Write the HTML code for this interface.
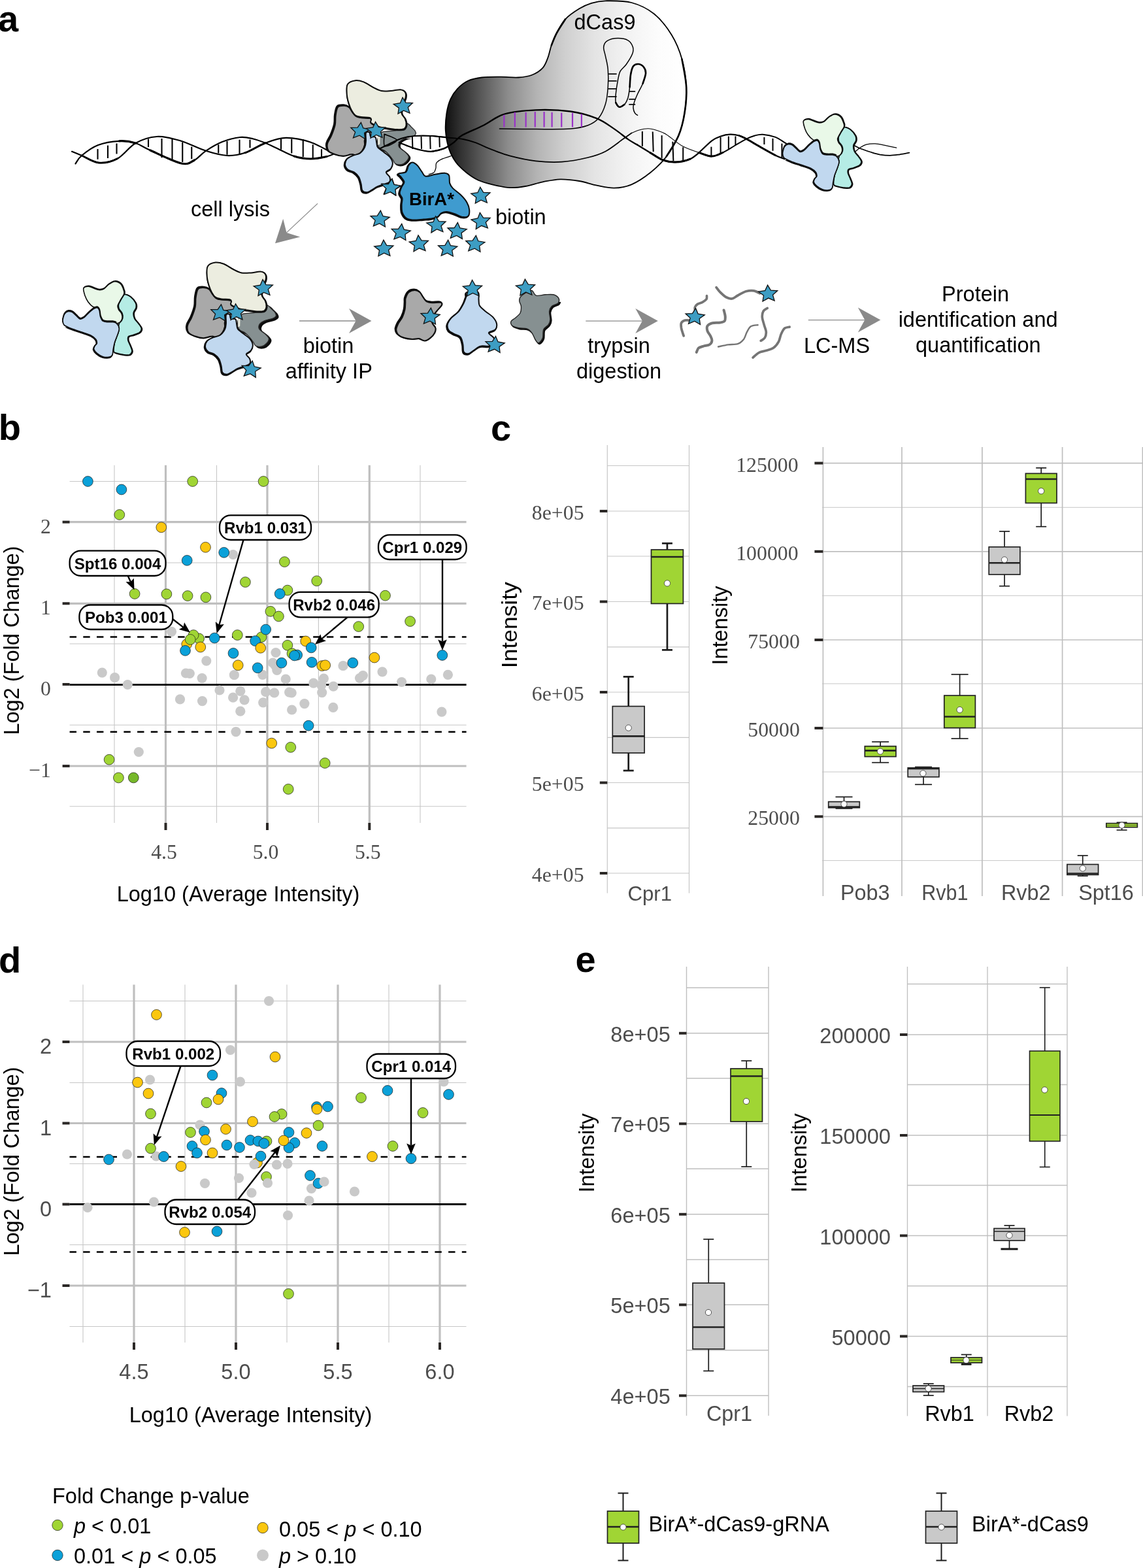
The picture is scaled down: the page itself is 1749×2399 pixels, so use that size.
<!DOCTYPE html>
<html lang="en"><head><meta charset="utf-8"><title>Figure</title>
<style>
html,body{margin:0;padding:0;background:#fff;}
body{width:1749px;height:2399px;overflow:hidden;}
svg{display:block;}
text{white-space:pre;}
</style></head>
<body>
<svg width="1749" height="2399" viewBox="0 0 1749 2399">
<rect width="1749" height="2399" fill="#ffffff"/>
<text x="-3" y="47.7" font-family="'Liberation Sans', sans-serif" font-size="56" fill="#000" text-anchor="start" font-weight="bold" font-style="normal" >a</text>
<text x="-2.3" y="673.3" font-family="'Liberation Sans', sans-serif" font-size="56" fill="#000" text-anchor="start" font-weight="bold" font-style="normal" >b</text>
<text x="751" y="673.8" font-family="'Liberation Sans', sans-serif" font-size="56" fill="#000" text-anchor="start" font-weight="bold" font-style="normal" >c</text>
<text x="-2" y="1488" font-family="'Liberation Sans', sans-serif" font-size="56" fill="#000" text-anchor="start" font-weight="bold" font-style="normal" >d</text>
<text x="880.5" y="1487.2" font-family="'Liberation Sans', sans-serif" font-size="56" fill="#000" text-anchor="start" font-weight="bold" font-style="normal" >e</text>
<line x1="175" y1="711.8" x2="175" y2="1259" stroke="#c6c6c6" stroke-width="1.1" />
<line x1="331.5" y1="711.8" x2="331.5" y2="1259" stroke="#c6c6c6" stroke-width="1.1" />
<line x1="487.4" y1="711.8" x2="487.4" y2="1259" stroke="#c6c6c6" stroke-width="1.1" />
<line x1="643" y1="711.8" x2="643" y2="1259" stroke="#c6c6c6" stroke-width="1.1" />
<line x1="106.6" y1="736.5" x2="713.6" y2="736.5" stroke="#c6c6c6" stroke-width="1.1" />
<line x1="106.6" y1="861" x2="713.6" y2="861" stroke="#c6c6c6" stroke-width="1.1" />
<line x1="106.6" y1="985" x2="713.6" y2="985" stroke="#c6c6c6" stroke-width="1.1" />
<line x1="106.6" y1="1109.3" x2="713.6" y2="1109.3" stroke="#c6c6c6" stroke-width="1.1" />
<line x1="106.6" y1="1233.8" x2="713.6" y2="1233.8" stroke="#c6c6c6" stroke-width="1.1" />
<line x1="253.5" y1="711.8" x2="253.5" y2="1259" stroke="#bfbfbf" stroke-width="3.2" />
<line x1="409" y1="711.8" x2="409" y2="1259" stroke="#bfbfbf" stroke-width="3.2" />
<line x1="565.3" y1="711.8" x2="565.3" y2="1259" stroke="#bfbfbf" stroke-width="3.2" />
<line x1="106.6" y1="798.7" x2="713.6" y2="798.7" stroke="#bfbfbf" stroke-width="3.2" />
<line x1="106.6" y1="923.3" x2="713.6" y2="923.3" stroke="#bfbfbf" stroke-width="3.2" />
<line x1="106.6" y1="1172" x2="713.6" y2="1172" stroke="#bfbfbf" stroke-width="3.2" />
<line x1="253.5" y1="1259" x2="253.5" y2="1270" stroke="#2b2826" stroke-width="4" />
<line x1="409" y1="1259" x2="409" y2="1270" stroke="#2b2826" stroke-width="4" />
<line x1="565.3" y1="1259" x2="565.3" y2="1270" stroke="#2b2826" stroke-width="4" />
<line x1="95.6" y1="798.7" x2="106.6" y2="798.7" stroke="#2b2826" stroke-width="4" />
<line x1="95.6" y1="923.3" x2="106.6" y2="923.3" stroke="#2b2826" stroke-width="4" />
<line x1="95.6" y1="1172" x2="106.6" y2="1172" stroke="#2b2826" stroke-width="4" />
<line x1="95.6" y1="1047" x2="106.6" y2="1047" stroke="#2b2826" stroke-width="4" />
<text x="251" y="1314" font-family="'Liberation Serif', serif" font-size="31.8" fill="#4d4d4d" text-anchor="middle" font-weight="normal" font-style="normal" >4.5</text>
<text x="406.5" y="1314" font-family="'Liberation Serif', serif" font-size="31.8" fill="#4d4d4d" text-anchor="middle" font-weight="normal" font-style="normal" >5.0</text>
<text x="562.8" y="1314" font-family="'Liberation Serif', serif" font-size="31.8" fill="#4d4d4d" text-anchor="middle" font-weight="normal" font-style="normal" >5.5</text>
<text x="78" y="815.5" font-family="'Liberation Serif', serif" font-size="31.8" fill="#4d4d4d" text-anchor="end" font-weight="normal" font-style="normal" >2</text>
<text x="78" y="940" font-family="'Liberation Serif', serif" font-size="31.8" fill="#4d4d4d" text-anchor="end" font-weight="normal" font-style="normal" >1</text>
<text x="78" y="1064" font-family="'Liberation Serif', serif" font-size="31.8" fill="#4d4d4d" text-anchor="end" font-weight="normal" font-style="normal" >0</text>
<text x="78" y="1189" font-family="'Liberation Serif', serif" font-size="31.8" fill="#4d4d4d" text-anchor="end" font-weight="normal" font-style="normal" >−1</text>
<text x="364.5" y="1379" font-family="'Liberation Sans', sans-serif" font-size="32.5" fill="#000" text-anchor="middle" font-weight="normal" font-style="normal" >Log10 (Average Intensity)</text>
<text transform="translate(29,980) rotate(-90)" font-family="'Liberation Sans', sans-serif" font-size="32.5" text-anchor="middle" fill="#000">Log2 (Fold Change)</text>
<line x1="106.6" y1="1047.6" x2="713.6" y2="1047.6" stroke="#000" stroke-width="2.8" />
<line x1="106.6" y1="974.5" x2="713.6" y2="974.5" stroke="#000" stroke-width="2.6" stroke-dasharray="10.4 10.3"/>
<line x1="106.6" y1="1119.8" x2="713.6" y2="1119.8" stroke="#000" stroke-width="2.6" stroke-dasharray="10.4 10.3"/>
<circle cx="421.1" cy="1017.9" r="7.6" fill="#c9c9c9"/>
<circle cx="156.3" cy="1029.1" r="7.6" fill="#c9c9c9"/>
<circle cx="175.6" cy="1036.7" r="7.6" fill="#c9c9c9"/>
<circle cx="195.3" cy="1047.5" r="7.6" fill="#c9c9c9"/>
<circle cx="284.4" cy="1030.0" r="7.6" fill="#c9c9c9"/>
<circle cx="290.3" cy="1030.5" r="7.6" fill="#c9c9c9"/>
<circle cx="309.1" cy="1037.6" r="7.6" fill="#c9c9c9"/>
<circle cx="358.4" cy="1032.7" r="7.6" fill="#c9c9c9"/>
<circle cx="401.8" cy="1032.3" r="7.6" fill="#c9c9c9"/>
<circle cx="423.8" cy="1025.5" r="7.6" fill="#c9c9c9"/>
<circle cx="437.2" cy="1039.0" r="7.6" fill="#c9c9c9"/>
<circle cx="479.7" cy="1045.2" r="7.6" fill="#c9c9c9"/>
<circle cx="491.8" cy="1048.4" r="7.6" fill="#c9c9c9"/>
<circle cx="495.4" cy="1038.1" r="7.6" fill="#c9c9c9"/>
<circle cx="492.7" cy="1059.6" r="7.6" fill="#c9c9c9"/>
<circle cx="510.2" cy="1050.2" r="7.6" fill="#c9c9c9"/>
<circle cx="550.5" cy="1037.6" r="7.6" fill="#c9c9c9"/>
<circle cx="555.4" cy="1033.6" r="7.6" fill="#c9c9c9"/>
<circle cx="585.0" cy="1027.8" r="7.6" fill="#c9c9c9"/>
<circle cx="614.6" cy="1043.5" r="7.6" fill="#c9c9c9"/>
<circle cx="659.8" cy="1039.0" r="7.6" fill="#c9c9c9"/>
<circle cx="685.4" cy="1032.3" r="7.6" fill="#c9c9c9"/>
<circle cx="336.0" cy="1056.0" r="7.6" fill="#c9c9c9"/>
<circle cx="367.8" cy="1057.3" r="7.6" fill="#c9c9c9"/>
<circle cx="406.7" cy="1058.7" r="7.6" fill="#c9c9c9"/>
<circle cx="419.7" cy="1060.0" r="7.6" fill="#c9c9c9"/>
<circle cx="442.6" cy="1059.1" r="7.6" fill="#c9c9c9"/>
<circle cx="446.2" cy="1060.0" r="7.6" fill="#c9c9c9"/>
<circle cx="275.5" cy="1069.9" r="7.6" fill="#c9c9c9"/>
<circle cx="309.5" cy="1072.6" r="7.6" fill="#c9c9c9"/>
<circle cx="356.6" cy="1067.2" r="7.6" fill="#c9c9c9"/>
<circle cx="374.0" cy="1070.8" r="7.6" fill="#c9c9c9"/>
<circle cx="402.7" cy="1074.8" r="7.6" fill="#c9c9c9"/>
<circle cx="465.9" cy="1076.6" r="7.6" fill="#c9c9c9"/>
<circle cx="367.8" cy="1088.2" r="7.6" fill="#c9c9c9"/>
<circle cx="446.6" cy="1086.0" r="7.6" fill="#c9c9c9"/>
<circle cx="509.8" cy="1082.4" r="7.6" fill="#c9c9c9"/>
<circle cx="675.9" cy="1089.1" r="7.6" fill="#c9c9c9"/>
<circle cx="361.0" cy="1119.6" r="7.6" fill="#c9c9c9"/>
<circle cx="212.3" cy="1150.5" r="7.6" fill="#c9c9c9"/>
<circle cx="356.6" cy="848.5" r="7.6" fill="#c9c9c9"/>
<circle cx="262.5" cy="966.3" r="7.6" fill="#c9c9c9"/>
<circle cx="422.0" cy="998.5" r="7.6" fill="#c9c9c9"/>
<circle cx="417.5" cy="1014.2" r="7.6" fill="#c9c9c9"/>
<circle cx="315.8" cy="1011.1" r="7.6" fill="#c9c9c9"/>
<circle cx="525.0" cy="1018.7" r="7.6" fill="#c9c9c9"/>
<circle cx="134.4" cy="736.5" r="7.8999999999999995" fill="#0ba1d9" stroke="#1a1a1a" stroke-width="0.7"/>
<circle cx="185.9" cy="749.0" r="7.8999999999999995" fill="#0ba1d9" stroke="#1a1a1a" stroke-width="0.7"/>
<circle cx="294.7" cy="736.5" r="7.8999999999999995" fill="#a0d534" stroke="#1a1a1a" stroke-width="0.7"/>
<circle cx="403.1" cy="736.5" r="7.8999999999999995" fill="#a0d534" stroke="#1a1a1a" stroke-width="0.7"/>
<circle cx="182.8" cy="787.5" r="7.8999999999999995" fill="#a0d534" stroke="#1a1a1a" stroke-width="0.7"/>
<circle cx="246.8" cy="806.8" r="7.8999999999999995" fill="#fbc70f" stroke="#1a1a1a" stroke-width="0.7"/>
<circle cx="314.5" cy="837.3" r="7.8999999999999995" fill="#fbc70f" stroke="#1a1a1a" stroke-width="0.7"/>
<circle cx="342.7" cy="845.3" r="7.8999999999999995" fill="#0ba1d9" stroke="#1a1a1a" stroke-width="0.7"/>
<circle cx="286.2" cy="857.4" r="7.8999999999999995" fill="#0ba1d9" stroke="#1a1a1a" stroke-width="0.7"/>
<circle cx="435.4" cy="859.6" r="7.8999999999999995" fill="#a0d534" stroke="#1a1a1a" stroke-width="0.7"/>
<circle cx="375.4" cy="890.6" r="7.8999999999999995" fill="#a0d534" stroke="#1a1a1a" stroke-width="0.7"/>
<circle cx="484.7" cy="888.8" r="7.8999999999999995" fill="#a0d534" stroke="#1a1a1a" stroke-width="0.7"/>
<circle cx="206.1" cy="908.5" r="7.8999999999999995" fill="#a0d534" stroke="#1a1a1a" stroke-width="0.7"/>
<circle cx="254.9" cy="908.9" r="7.8999999999999995" fill="#a0d534" stroke="#1a1a1a" stroke-width="0.7"/>
<circle cx="287.1" cy="911.6" r="7.8999999999999995" fill="#a0d534" stroke="#1a1a1a" stroke-width="0.7"/>
<circle cx="314.9" cy="913.8" r="7.8999999999999995" fill="#a0d534" stroke="#1a1a1a" stroke-width="0.7"/>
<circle cx="439.9" cy="903.1" r="7.8999999999999995" fill="#a0d534" stroke="#1a1a1a" stroke-width="0.7"/>
<circle cx="428.2" cy="908.5" r="7.8999999999999995" fill="#0ba1d9" stroke="#1a1a1a" stroke-width="0.7"/>
<circle cx="589.5" cy="911.2" r="7.8999999999999995" fill="#a0d534" stroke="#1a1a1a" stroke-width="0.7"/>
<circle cx="413.9" cy="935.4" r="7.8999999999999995" fill="#a0d534" stroke="#1a1a1a" stroke-width="0.7"/>
<circle cx="426.4" cy="943.0" r="7.8999999999999995" fill="#a0d534" stroke="#1a1a1a" stroke-width="0.7"/>
<circle cx="627.6" cy="950.6" r="7.8999999999999995" fill="#a0d534" stroke="#1a1a1a" stroke-width="0.7"/>
<circle cx="548.7" cy="958.6" r="7.8999999999999995" fill="#a0d534" stroke="#1a1a1a" stroke-width="0.7"/>
<circle cx="285.8" cy="985.5" r="7.8999999999999995" fill="#fbc70f" stroke="#1a1a1a" stroke-width="0.7"/>
<circle cx="304.6" cy="977.0" r="7.8999999999999995" fill="#a0d534" stroke="#1a1a1a" stroke-width="0.7"/>
<circle cx="296.1" cy="971.6" r="7.8999999999999995" fill="#a0d534" stroke="#1a1a1a" stroke-width="0.7"/>
<circle cx="291.2" cy="978.4" r="7.8999999999999995" fill="#a0d534" stroke="#1a1a1a" stroke-width="0.7"/>
<circle cx="328.3" cy="976.1" r="7.8999999999999995" fill="#0ba1d9" stroke="#1a1a1a" stroke-width="0.7"/>
<circle cx="363.3" cy="971.6" r="7.8999999999999995" fill="#a0d534" stroke="#1a1a1a" stroke-width="0.7"/>
<circle cx="400.0" cy="974.8" r="7.8999999999999995" fill="#a0d534" stroke="#1a1a1a" stroke-width="0.7"/>
<circle cx="406.7" cy="963.1" r="7.8999999999999995" fill="#0ba1d9" stroke="#1a1a1a" stroke-width="0.7"/>
<circle cx="390.6" cy="980.6" r="7.8999999999999995" fill="#0ba1d9" stroke="#1a1a1a" stroke-width="0.7"/>
<circle cx="306.8" cy="990.0" r="7.8999999999999995" fill="#fbc70f" stroke="#1a1a1a" stroke-width="0.7"/>
<circle cx="283.5" cy="995.4" r="7.8999999999999995" fill="#0ba1d9" stroke="#1a1a1a" stroke-width="0.7"/>
<circle cx="467.7" cy="981.0" r="7.8999999999999995" fill="#fbc70f" stroke="#1a1a1a" stroke-width="0.7"/>
<circle cx="476.2" cy="990.9" r="7.8999999999999995" fill="#0ba1d9" stroke="#1a1a1a" stroke-width="0.7"/>
<circle cx="439.9" cy="987.3" r="7.8999999999999995" fill="#a0d534" stroke="#1a1a1a" stroke-width="0.7"/>
<circle cx="398.7" cy="991.3" r="7.8999999999999995" fill="#fbc70f" stroke="#1a1a1a" stroke-width="0.7"/>
<circle cx="357.0" cy="999.4" r="7.8999999999999995" fill="#0ba1d9" stroke="#1a1a1a" stroke-width="0.7"/>
<circle cx="447.0" cy="999.9" r="7.8999999999999995" fill="#a0d534" stroke="#1a1a1a" stroke-width="0.7"/>
<circle cx="454.7" cy="1002.1" r="7.8999999999999995" fill="#0ba1d9" stroke="#1a1a1a" stroke-width="0.7"/>
<circle cx="450.6" cy="1003.0" r="7.8999999999999995" fill="#0ba1d9" stroke="#1a1a1a" stroke-width="0.7"/>
<circle cx="676.8" cy="1002.5" r="7.8999999999999995" fill="#0ba1d9" stroke="#1a1a1a" stroke-width="0.7"/>
<circle cx="572.9" cy="1006.1" r="7.8999999999999995" fill="#fbc70f" stroke="#1a1a1a" stroke-width="0.7"/>
<circle cx="364.2" cy="1017.8" r="7.8999999999999995" fill="#fbc70f" stroke="#1a1a1a" stroke-width="0.7"/>
<circle cx="394.2" cy="1021.8" r="7.8999999999999995" fill="#0ba1d9" stroke="#1a1a1a" stroke-width="0.7"/>
<circle cx="430.9" cy="1014.2" r="7.8999999999999995" fill="#0ba1d9" stroke="#1a1a1a" stroke-width="0.7"/>
<circle cx="477.1" cy="1013.3" r="7.8999999999999995" fill="#0ba1d9" stroke="#1a1a1a" stroke-width="0.7"/>
<circle cx="492.7" cy="1018.7" r="7.8999999999999995" fill="#fbc70f" stroke="#1a1a1a" stroke-width="0.7"/>
<circle cx="497.7" cy="1017.8" r="7.8999999999999995" fill="#fbc70f" stroke="#1a1a1a" stroke-width="0.7"/>
<circle cx="539.8" cy="1014.2" r="7.8999999999999995" fill="#0ba1d9" stroke="#1a1a1a" stroke-width="0.7"/>
<circle cx="472.1" cy="1110.2" r="7.8999999999999995" fill="#0ba1d9" stroke="#1a1a1a" stroke-width="0.7"/>
<circle cx="415.7" cy="1137.1" r="7.8999999999999995" fill="#fbc70f" stroke="#1a1a1a" stroke-width="0.7"/>
<circle cx="444.8" cy="1143.3" r="7.8999999999999995" fill="#a0d534" stroke="#1a1a1a" stroke-width="0.7"/>
<circle cx="167.1" cy="1162.2" r="7.8999999999999995" fill="#a0d534" stroke="#1a1a1a" stroke-width="0.7"/>
<circle cx="497.2" cy="1167.5" r="7.8999999999999995" fill="#a0d534" stroke="#1a1a1a" stroke-width="0.7"/>
<circle cx="181.4" cy="1189.9" r="7.8999999999999995" fill="#a0d534" stroke="#1a1a1a" stroke-width="0.7"/>
<circle cx="204.3" cy="1189.9" r="7.8999999999999995" fill="#76b82a" stroke="#1a1a1a" stroke-width="0.7"/>
<circle cx="441.2" cy="1207.4" r="7.8999999999999995" fill="#a0d534" stroke="#1a1a1a" stroke-width="0.7"/>
<line x1="372.5" y1="826.0" x2="335.4" y2="956.0" stroke="#000" stroke-width="2.4" />
<polygon points="331.7,969.0 329.7,951.3 335.4,956.0 342.8,955.0" fill="#000"/>
<rect x="336" y="788.4" width="140" height="37.60000000000002" rx="17" ry="17" fill="#fff" stroke="#000" stroke-width="2.3"/>
<text x="406.0" y="816.2555000000001" font-family="'Liberation Sans', sans-serif" font-size="24.1" fill="#000" text-anchor="middle" font-weight="bold" font-style="normal" >Rvb1 0.031</text>
<line x1="677.0" y1="856.0" x2="677.0" y2="981.5" stroke="#000" stroke-width="2.4" />
<polygon points="677.0,995.0 670.2,978.5 677.0,981.5 683.8,978.5" fill="#000"/>
<rect x="579" y="818.4" width="134.60000000000002" height="37.60000000000002" rx="17" ry="17" fill="#fff" stroke="#000" stroke-width="2.3"/>
<text x="646.3" y="846.2555000000001" font-family="'Liberation Sans', sans-serif" font-size="24.1" fill="#000" text-anchor="middle" font-weight="bold" font-style="normal" >Cpr1 0.029</text>
<line x1="195.7" y1="881.0" x2="199.9" y2="890.2" stroke="#000" stroke-width="2.4" />
<polygon points="205.5,902.5 192.5,890.3 199.9,890.2 204.8,884.7" fill="#000"/>
<rect x="106.6" y="842.6" width="146.9" height="38.39999999999998" rx="17" ry="17" fill="#fff" stroke="#000" stroke-width="2.3"/>
<text x="180.05" y="870.8555" font-family="'Liberation Sans', sans-serif" font-size="24.1" fill="#000" text-anchor="middle" font-weight="bold" font-style="normal" >Spt16 0.004</text>
<line x1="264.0" y1="947.0" x2="280.3" y2="959.6" stroke="#000" stroke-width="2.4" />
<polygon points="291.0,967.8 273.8,963.1 280.3,959.6 282.1,952.3" fill="#000"/>
<rect x="121.4" y="925.5" width="142.9" height="37.5" rx="17" ry="17" fill="#fff" stroke="#000" stroke-width="2.3"/>
<text x="192.85000000000002" y="953.3055" font-family="'Liberation Sans', sans-serif" font-size="24.1" fill="#000" text-anchor="middle" font-weight="bold" font-style="normal" >Pob3 0.001</text>
<line x1="531.7" y1="944.3" x2="492.3" y2="977.3" stroke="#000" stroke-width="2.4" />
<polygon points="482.0,986.0 490.3,970.2 492.3,977.3 499.0,980.6" fill="#000"/>
<rect x="442.6" y="905.8" width="137.0" height="38.5" rx="17" ry="17" fill="#fff" stroke="#000" stroke-width="2.3"/>
<text x="511.1" y="934.1055" font-family="'Liberation Sans', sans-serif" font-size="24.1" fill="#000" text-anchor="middle" font-weight="bold" font-style="normal" >Rvb2 0.046</text>
<line x1="127" y1="1506.5" x2="127" y2="2054" stroke="#c6c6c6" stroke-width="1.1" />
<line x1="283" y1="1506.5" x2="283" y2="2054" stroke="#c6c6c6" stroke-width="1.1" />
<line x1="439" y1="1506.5" x2="439" y2="2054" stroke="#c6c6c6" stroke-width="1.1" />
<line x1="595" y1="1506.5" x2="595" y2="2054" stroke="#c6c6c6" stroke-width="1.1" />
<line x1="106.5" y1="1531.5" x2="713.5" y2="1531.5" stroke="#c6c6c6" stroke-width="1.1" />
<line x1="106.5" y1="1656.5" x2="713.5" y2="1656.5" stroke="#c6c6c6" stroke-width="1.1" />
<line x1="106.5" y1="1780.5" x2="713.5" y2="1780.5" stroke="#c6c6c6" stroke-width="1.1" />
<line x1="106.5" y1="1904.5" x2="713.5" y2="1904.5" stroke="#c6c6c6" stroke-width="1.1" />
<line x1="106.5" y1="2029.5" x2="713.5" y2="2029.5" stroke="#c6c6c6" stroke-width="1.1" />
<line x1="205" y1="1506.5" x2="205" y2="2054" stroke="#bfbfbf" stroke-width="3.2" />
<line x1="361" y1="1506.5" x2="361" y2="2054" stroke="#bfbfbf" stroke-width="3.2" />
<line x1="517" y1="1506.5" x2="517" y2="2054" stroke="#bfbfbf" stroke-width="3.2" />
<line x1="673" y1="1506.5" x2="673" y2="2054" stroke="#bfbfbf" stroke-width="3.2" />
<line x1="106.5" y1="1594" x2="713.5" y2="1594" stroke="#bfbfbf" stroke-width="3.2" />
<line x1="106.5" y1="1718.5" x2="713.5" y2="1718.5" stroke="#bfbfbf" stroke-width="3.2" />
<line x1="106.5" y1="1967" x2="713.5" y2="1967" stroke="#bfbfbf" stroke-width="3.2" />
<line x1="205" y1="2054" x2="205" y2="2065" stroke="#2b2826" stroke-width="4" />
<line x1="361" y1="2054" x2="361" y2="2065" stroke="#2b2826" stroke-width="4" />
<line x1="517" y1="2054" x2="517" y2="2065" stroke="#2b2826" stroke-width="4" />
<line x1="673" y1="2054" x2="673" y2="2065" stroke="#2b2826" stroke-width="4" />
<line x1="95.5" y1="1594" x2="106.5" y2="1594" stroke="#2b2826" stroke-width="4" />
<line x1="95.5" y1="1718.5" x2="106.5" y2="1718.5" stroke="#2b2826" stroke-width="4" />
<line x1="95.5" y1="1967" x2="106.5" y2="1967" stroke="#2b2826" stroke-width="4" />
<line x1="95.5" y1="1842.5" x2="106.5" y2="1842.5" stroke="#2b2826" stroke-width="4" />
<text x="205" y="2110" font-family="'Liberation Sans', sans-serif" font-size="32.6" fill="#4d4d4d" text-anchor="middle" font-weight="normal" font-style="normal" >4.5</text>
<text x="361" y="2110" font-family="'Liberation Sans', sans-serif" font-size="32.6" fill="#4d4d4d" text-anchor="middle" font-weight="normal" font-style="normal" >5.0</text>
<text x="517" y="2110" font-family="'Liberation Sans', sans-serif" font-size="32.6" fill="#4d4d4d" text-anchor="middle" font-weight="normal" font-style="normal" >5.5</text>
<text x="673" y="2110" font-family="'Liberation Sans', sans-serif" font-size="32.6" fill="#4d4d4d" text-anchor="middle" font-weight="normal" font-style="normal" >6.0</text>
<text x="79" y="1612" font-family="'Liberation Sans', sans-serif" font-size="32.6" fill="#4d4d4d" text-anchor="end" font-weight="normal" font-style="normal" >2</text>
<text x="79" y="1736.5" font-family="'Liberation Sans', sans-serif" font-size="32.6" fill="#4d4d4d" text-anchor="end" font-weight="normal" font-style="normal" >1</text>
<text x="79" y="1860.5" font-family="'Liberation Sans', sans-serif" font-size="32.6" fill="#4d4d4d" text-anchor="end" font-weight="normal" font-style="normal" >0</text>
<text x="79" y="1985" font-family="'Liberation Sans', sans-serif" font-size="32.6" fill="#4d4d4d" text-anchor="end" font-weight="normal" font-style="normal" >−1</text>
<text x="383.5" y="2175.5" font-family="'Liberation Sans', sans-serif" font-size="32.5" fill="#000" text-anchor="middle" font-weight="normal" font-style="normal" >Log10 (Average Intensity)</text>
<text transform="translate(29,1777) rotate(-90)" font-family="'Liberation Sans', sans-serif" font-size="32.5" text-anchor="middle" fill="#000">Log2 (Fold Change)</text>
<line x1="106.5" y1="1842.5" x2="713.5" y2="1842.5" stroke="#000" stroke-width="2.8" />
<line x1="106.5" y1="1770" x2="713.5" y2="1770" stroke="#000" stroke-width="2.6" stroke-dasharray="10.4 10.3"/>
<line x1="106.5" y1="1915.5" x2="713.5" y2="1915.5" stroke="#000" stroke-width="2.6" stroke-dasharray="10.4 10.3"/>
<circle cx="411.5" cy="1531.5" r="7.6" fill="#c9c9c9"/>
<circle cx="352.5" cy="1606.5" r="7.6" fill="#c9c9c9"/>
<circle cx="229.5" cy="1652.0" r="7.6" fill="#c9c9c9"/>
<circle cx="367.5" cy="1655.0" r="7.6" fill="#c9c9c9"/>
<circle cx="679.0" cy="1655.0" r="7.6" fill="#c9c9c9"/>
<circle cx="306.0" cy="1721.0" r="7.6" fill="#c9c9c9"/>
<circle cx="194.5" cy="1766.0" r="7.6" fill="#c9c9c9"/>
<circle cx="239.0" cy="1769.0" r="7.6" fill="#c9c9c9"/>
<circle cx="423.5" cy="1782.0" r="7.6" fill="#c9c9c9"/>
<circle cx="440.0" cy="1780.5" r="7.6" fill="#c9c9c9"/>
<circle cx="365.5" cy="1802.5" r="7.6" fill="#c9c9c9"/>
<circle cx="313.5" cy="1810.5" r="7.6" fill="#c9c9c9"/>
<circle cx="476.5" cy="1818.5" r="7.6" fill="#c9c9c9"/>
<circle cx="385.0" cy="1825.0" r="7.6" fill="#c9c9c9"/>
<circle cx="542.5" cy="1823.0" r="7.6" fill="#c9c9c9"/>
<circle cx="473.0" cy="1837.0" r="7.6" fill="#c9c9c9"/>
<circle cx="235.5" cy="1839.0" r="7.6" fill="#c9c9c9"/>
<circle cx="134.0" cy="1847.5" r="7.6" fill="#c9c9c9"/>
<circle cx="440.5" cy="1859.5" r="7.6" fill="#c9c9c9"/>
<circle cx="239.5" cy="1552.5" r="7.8999999999999995" fill="#fbc70f" stroke="#1a1a1a" stroke-width="0.7"/>
<circle cx="421.0" cy="1617.0" r="7.8999999999999995" fill="#fbc70f" stroke="#1a1a1a" stroke-width="0.7"/>
<circle cx="325.0" cy="1645.0" r="7.8999999999999995" fill="#0ba1d9" stroke="#1a1a1a" stroke-width="0.7"/>
<circle cx="210.5" cy="1656.0" r="7.8999999999999995" fill="#fbc70f" stroke="#1a1a1a" stroke-width="0.7"/>
<circle cx="593.0" cy="1668.5" r="7.8999999999999995" fill="#0ba1d9" stroke="#1a1a1a" stroke-width="0.7"/>
<circle cx="227.0" cy="1673.0" r="7.8999999999999995" fill="#fbc70f" stroke="#1a1a1a" stroke-width="0.7"/>
<circle cx="339.0" cy="1672.5" r="7.8999999999999995" fill="#0ba1d9" stroke="#1a1a1a" stroke-width="0.7"/>
<circle cx="334.0" cy="1682.0" r="7.8999999999999995" fill="#fbc70f" stroke="#1a1a1a" stroke-width="0.7"/>
<circle cx="686.5" cy="1674.5" r="7.8999999999999995" fill="#0ba1d9" stroke="#1a1a1a" stroke-width="0.7"/>
<circle cx="552.5" cy="1679.5" r="7.8999999999999995" fill="#a0d534" stroke="#1a1a1a" stroke-width="0.7"/>
<circle cx="316.0" cy="1687.0" r="7.8999999999999995" fill="#a0d534" stroke="#1a1a1a" stroke-width="0.7"/>
<circle cx="230.5" cy="1704.0" r="7.8999999999999995" fill="#a0d534" stroke="#1a1a1a" stroke-width="0.7"/>
<circle cx="484.5" cy="1693.5" r="7.8999999999999995" fill="#0ba1d9" stroke="#1a1a1a" stroke-width="0.7"/>
<circle cx="501.5" cy="1693.0" r="7.8999999999999995" fill="#0ba1d9" stroke="#1a1a1a" stroke-width="0.7"/>
<circle cx="485.0" cy="1697.0" r="7.8999999999999995" fill="#fbc70f" stroke="#1a1a1a" stroke-width="0.7"/>
<circle cx="647.0" cy="1702.5" r="7.8999999999999995" fill="#a0d534" stroke="#1a1a1a" stroke-width="0.7"/>
<circle cx="431.0" cy="1704.5" r="7.8999999999999995" fill="#a0d534" stroke="#1a1a1a" stroke-width="0.7"/>
<circle cx="420.0" cy="1708.5" r="7.8999999999999995" fill="#a0d534" stroke="#1a1a1a" stroke-width="0.7"/>
<circle cx="386.5" cy="1716.0" r="7.8999999999999995" fill="#fbc70f" stroke="#1a1a1a" stroke-width="0.7"/>
<circle cx="487.0" cy="1722.0" r="7.8999999999999995" fill="#a0d534" stroke="#1a1a1a" stroke-width="0.7"/>
<circle cx="291.5" cy="1732.5" r="7.8999999999999995" fill="#a0d534" stroke="#1a1a1a" stroke-width="0.7"/>
<circle cx="312.5" cy="1731.0" r="7.8999999999999995" fill="#0ba1d9" stroke="#1a1a1a" stroke-width="0.7"/>
<circle cx="345.5" cy="1727.5" r="7.8999999999999995" fill="#fbc70f" stroke="#1a1a1a" stroke-width="0.7"/>
<circle cx="442.0" cy="1732.5" r="7.8999999999999995" fill="#0ba1d9" stroke="#1a1a1a" stroke-width="0.7"/>
<circle cx="469.0" cy="1733.5" r="7.8999999999999995" fill="#fbc70f" stroke="#1a1a1a" stroke-width="0.7"/>
<circle cx="314.5" cy="1744.0" r="7.8999999999999995" fill="#fbc70f" stroke="#1a1a1a" stroke-width="0.7"/>
<circle cx="383.0" cy="1744.5" r="7.8999999999999995" fill="#0ba1d9" stroke="#1a1a1a" stroke-width="0.7"/>
<circle cx="395.0" cy="1746.0" r="7.8999999999999995" fill="#0ba1d9" stroke="#1a1a1a" stroke-width="0.7"/>
<circle cx="408.0" cy="1746.0" r="7.8999999999999995" fill="#a0d534" stroke="#1a1a1a" stroke-width="0.7"/>
<circle cx="404.0" cy="1749.5" r="7.8999999999999995" fill="#0ba1d9" stroke="#1a1a1a" stroke-width="0.7"/>
<circle cx="451.0" cy="1748.5" r="7.8999999999999995" fill="#0ba1d9" stroke="#1a1a1a" stroke-width="0.7"/>
<circle cx="294.0" cy="1753.5" r="7.8999999999999995" fill="#0ba1d9" stroke="#1a1a1a" stroke-width="0.7"/>
<circle cx="347.0" cy="1752.0" r="7.8999999999999995" fill="#0ba1d9" stroke="#1a1a1a" stroke-width="0.7"/>
<circle cx="366.5" cy="1755.5" r="7.8999999999999995" fill="#0ba1d9" stroke="#1a1a1a" stroke-width="0.7"/>
<circle cx="442.0" cy="1756.0" r="7.8999999999999995" fill="#0ba1d9" stroke="#1a1a1a" stroke-width="0.7"/>
<circle cx="434.0" cy="1745.0" r="7.8999999999999995" fill="#fbc70f" stroke="#1a1a1a" stroke-width="0.7"/>
<circle cx="493.0" cy="1753.5" r="7.8999999999999995" fill="#0ba1d9" stroke="#1a1a1a" stroke-width="0.7"/>
<circle cx="601.0" cy="1753.5" r="7.8999999999999995" fill="#a0d534" stroke="#1a1a1a" stroke-width="0.7"/>
<circle cx="230.5" cy="1757.0" r="7.8999999999999995" fill="#a0d534" stroke="#1a1a1a" stroke-width="0.7"/>
<circle cx="301.5" cy="1764.0" r="7.8999999999999995" fill="#0ba1d9" stroke="#1a1a1a" stroke-width="0.7"/>
<circle cx="325.0" cy="1764.0" r="7.8999999999999995" fill="#fbc70f" stroke="#1a1a1a" stroke-width="0.7"/>
<circle cx="393.5" cy="1779.0" r="7.8999999999999995" fill="#fbc70f" stroke="#1a1a1a" stroke-width="0.7"/>
<circle cx="399.0" cy="1769.0" r="7.8999999999999995" fill="#0ba1d9" stroke="#1a1a1a" stroke-width="0.7"/>
<circle cx="250.5" cy="1769.5" r="7.8999999999999995" fill="#0ba1d9" stroke="#1a1a1a" stroke-width="0.7"/>
<circle cx="166.5" cy="1774.0" r="7.8999999999999995" fill="#0ba1d9" stroke="#1a1a1a" stroke-width="0.7"/>
<circle cx="569.5" cy="1769.5" r="7.8999999999999995" fill="#fbc70f" stroke="#1a1a1a" stroke-width="0.7"/>
<circle cx="629.0" cy="1772.5" r="7.8999999999999995" fill="#0ba1d9" stroke="#1a1a1a" stroke-width="0.7"/>
<circle cx="277.0" cy="1784.5" r="7.8999999999999995" fill="#fbc70f" stroke="#1a1a1a" stroke-width="0.7"/>
<circle cx="407.5" cy="1800.5" r="7.8999999999999995" fill="#a0d534" stroke="#1a1a1a" stroke-width="0.7"/>
<circle cx="474.5" cy="1798.5" r="7.8999999999999995" fill="#0ba1d9" stroke="#1a1a1a" stroke-width="0.7"/>
<circle cx="487.0" cy="1810.5" r="7.8999999999999995" fill="#0ba1d9" stroke="#1a1a1a" stroke-width="0.7"/>
<circle cx="282.5" cy="1885.5" r="7.8999999999999995" fill="#fbc70f" stroke="#1a1a1a" stroke-width="0.7"/>
<circle cx="332.0" cy="1884.0" r="7.8999999999999995" fill="#0ba1d9" stroke="#1a1a1a" stroke-width="0.7"/>
<circle cx="441.5" cy="1979.5" r="7.8999999999999995" fill="#a0d534" stroke="#1a1a1a" stroke-width="0.7"/>
<circle cx="389.0" cy="1781.5" r="7.6" fill="#c9c9c9"/>
<circle cx="409.5" cy="1810.0" r="7.6" fill="#c9c9c9"/>
<circle cx="496.0" cy="1808.0" r="7.6" fill="#c9c9c9"/>
<line x1="276.5" y1="1631.0" x2="240.1" y2="1739.2" stroke="#000" stroke-width="2.4" />
<polygon points="235.8,1752.0 234.6,1734.2 240.1,1739.2 247.5,1738.5" fill="#000"/>
<rect x="193.5" y="1593" width="143.5" height="38" rx="17" ry="17" fill="#fff" stroke="#000" stroke-width="2.3"/>
<text x="265.25" y="1621.0555" font-family="'Liberation Sans', sans-serif" font-size="24.1" fill="#000" text-anchor="middle" font-weight="bold" font-style="normal" >Rvb1 0.002</text>
<line x1="629.0" y1="1650.0" x2="629.0" y2="1752.5" stroke="#000" stroke-width="2.4" />
<polygon points="629.0,1766.0 622.2,1749.5 629.0,1752.5 635.8,1749.5" fill="#000"/>
<rect x="561.5" y="1612.5" width="135.5" height="37.5" rx="17" ry="17" fill="#fff" stroke="#000" stroke-width="2.3"/>
<text x="629.25" y="1640.3055" font-family="'Liberation Sans', sans-serif" font-size="24.1" fill="#000" text-anchor="middle" font-weight="bold" font-style="normal" >Cpr1 0.014</text>
<line x1="364.0" y1="1835.5" x2="420.7" y2="1763.1" stroke="#000" stroke-width="2.4" />
<polygon points="429.0,1752.5 424.2,1769.7 420.7,1763.1 413.5,1761.3" fill="#000"/>
<rect x="252.5" y="1835.5" width="137.5" height="37.5" rx="17" ry="17" fill="#fff" stroke="#000" stroke-width="2.3"/>
<text x="321.25" y="1863.3055" font-family="'Liberation Sans', sans-serif" font-size="24.1" fill="#000" text-anchor="middle" font-weight="bold" font-style="normal" >Rvb2 0.054</text>
<text x="80" y="2300" font-family="'Liberation Sans', sans-serif" font-size="32.5" fill="#000" text-anchor="start" font-weight="normal" font-style="normal" >Fold Change p-value</text>
<circle cx="88" cy="2333.5" r="8.2" fill="#a0d534" stroke="#1a1a1a" stroke-width="0.7"/>
<circle cx="88" cy="2379.5" r="8.2" fill="#0ba1d9" stroke="#1a1a1a" stroke-width="0.7"/>
<circle cx="402" cy="2337.5" r="8.2" fill="#fbc70f" stroke="#1a1a1a" stroke-width="0.7"/>
<circle cx="402" cy="2379.5" r="9" fill="#c9c9c9"/>
<text x="113" y="2346" font-family="'Liberation Sans', sans-serif" font-size="32.5" fill="#000"><tspan font-style="italic">p</tspan> &lt; 0.01</text>
<text x="113" y="2392" font-family="'Liberation Sans', sans-serif" font-size="32.5" fill="#000">0.01 &lt; <tspan font-style="italic">p</tspan> &lt; 0.05</text>
<text x="427" y="2351" font-family="'Liberation Sans', sans-serif" font-size="32.5" fill="#000">0.05 &lt; <tspan font-style="italic">p</tspan> &lt; 0.10</text>
<text x="427" y="2392" font-family="'Liberation Sans', sans-serif" font-size="32.5" fill="#000"><tspan font-style="italic">p</tspan> &gt; 0.10</text>
<line x1="929.3" y1="712.5" x2="1054.5" y2="712.5" stroke="#c6c6c6" stroke-width="1.2" />
<line x1="929.3" y1="851" x2="1054.5" y2="851" stroke="#c6c6c6" stroke-width="1.2" />
<line x1="929.3" y1="989.8" x2="1054.5" y2="989.8" stroke="#c6c6c6" stroke-width="1.2" />
<line x1="929.3" y1="1128.3" x2="1054.5" y2="1128.3" stroke="#c6c6c6" stroke-width="1.2" />
<line x1="929.3" y1="1266.8" x2="1054.5" y2="1266.8" stroke="#c6c6c6" stroke-width="1.2" />
<line x1="929.3" y1="782" x2="1054.5" y2="782" stroke="#c6c6c6" stroke-width="1.2" />
<line x1="929.3" y1="920.5" x2="1054.5" y2="920.5" stroke="#c6c6c6" stroke-width="1.2" />
<line x1="929.3" y1="1059" x2="1054.5" y2="1059" stroke="#c6c6c6" stroke-width="1.2" />
<line x1="929.3" y1="1197.5" x2="1054.5" y2="1197.5" stroke="#c6c6c6" stroke-width="1.2" />
<line x1="929.3" y1="1336" x2="1054.5" y2="1336" stroke="#c6c6c6" stroke-width="1.2" />
<line x1="929.3" y1="681" x2="929.3" y2="1366.5" stroke="#c6c6c6" stroke-width="1.2" />
<line x1="1054.5" y1="681" x2="1054.5" y2="1366.5" stroke="#c6c6c6" stroke-width="1.2" />
<line x1="917.8" y1="782" x2="929.3" y2="782" stroke="#2b2826" stroke-width="4" />
<line x1="917.8" y1="920.5" x2="929.3" y2="920.5" stroke="#2b2826" stroke-width="4" />
<line x1="917.8" y1="1059" x2="929.3" y2="1059" stroke="#2b2826" stroke-width="4" />
<line x1="917.8" y1="1197.5" x2="929.3" y2="1197.5" stroke="#2b2826" stroke-width="4" />
<line x1="917.8" y1="1336" x2="929.3" y2="1336" stroke="#2b2826" stroke-width="4" />
<text x="893.6" y="794.5" font-family="'Liberation Serif', serif" font-size="31.8" fill="#4d4d4d" text-anchor="end" font-weight="normal" font-style="normal" >8e+05</text>
<text x="893.6" y="933.0" font-family="'Liberation Serif', serif" font-size="31.8" fill="#4d4d4d" text-anchor="end" font-weight="normal" font-style="normal" >7e+05</text>
<text x="893.6" y="1071.5" font-family="'Liberation Serif', serif" font-size="31.8" fill="#4d4d4d" text-anchor="end" font-weight="normal" font-style="normal" >6e+05</text>
<text x="893.6" y="1210.0" font-family="'Liberation Serif', serif" font-size="31.8" fill="#4d4d4d" text-anchor="end" font-weight="normal" font-style="normal" >5e+05</text>
<text x="893.6" y="1348.5" font-family="'Liberation Serif', serif" font-size="31.8" fill="#4d4d4d" text-anchor="end" font-weight="normal" font-style="normal" >4e+05</text>
<text transform="translate(994.3,1378.2) scale(1,1)" font-family="'Liberation Sans', sans-serif" font-size="31.2" fill="#4d4d4d" text-anchor="middle">Cpr1</text>
<text transform="translate(791,956.2) rotate(-90) scale(1.09,1)" font-family="'Liberation Sans', sans-serif" font-size="32.5" text-anchor="middle" fill="#000">Intensity</text>
<line x1="1020.95" y1="831.3" x2="1020.95" y2="841" stroke="#1c1c1c" stroke-width="2.7" />
<line x1="1020.95" y1="923.5" x2="1020.95" y2="994.4" stroke="#1c1c1c" stroke-width="2.7" />
<line x1="1012.95" y1="831.3" x2="1028.95" y2="831.3" stroke="#1c1c1c" stroke-width="2.7" />
<line x1="1012.95" y1="994.4" x2="1028.95" y2="994.4" stroke="#1c1c1c" stroke-width="2.7" />
<rect x="996.5" y="841" width="48.90000000000009" height="82.5" fill="#a0d534" stroke="#222" stroke-width="1.7"/>
<line x1="996.5" y1="852" x2="1045.4" y2="852" stroke="#222" stroke-width="2.6" />
<circle cx="1021" cy="892.4" r="4.6" fill="#fff" stroke="#333" stroke-width="0.8"/>
<line x1="961.7" y1="1035.4" x2="961.7" y2="1080.6" stroke="#1c1c1c" stroke-width="2.7" />
<line x1="961.7" y1="1152" x2="961.7" y2="1179" stroke="#1c1c1c" stroke-width="2.7" />
<line x1="953.7" y1="1035.4" x2="969.7" y2="1035.4" stroke="#1c1c1c" stroke-width="2.7" />
<line x1="953.7" y1="1179" x2="969.7" y2="1179" stroke="#1c1c1c" stroke-width="2.7" />
<rect x="937.3" y="1080.6" width="48.80000000000007" height="71.40000000000009" fill="#c9c9c9" stroke="#222" stroke-width="1.7"/>
<line x1="937.3" y1="1126.4" x2="986.1" y2="1126.4" stroke="#222" stroke-width="2.6" />
<circle cx="961.7" cy="1113.6" r="4.6" fill="#fff" stroke="#333" stroke-width="0.8"/>
<line x1="1258" y1="776.3" x2="1749" y2="776.3" stroke="#c6c6c6" stroke-width="1.0" />
<line x1="1258" y1="911.3" x2="1749" y2="911.3" stroke="#c6c6c6" stroke-width="1.0" />
<line x1="1258" y1="1046" x2="1749" y2="1046" stroke="#c6c6c6" stroke-width="1.0" />
<line x1="1258" y1="1181" x2="1749" y2="1181" stroke="#c6c6c6" stroke-width="1.0" />
<line x1="1258" y1="1316.6" x2="1749" y2="1316.6" stroke="#c6c6c6" stroke-width="1.0" />
<line x1="1259.4" y1="708.6" x2="1749" y2="708.6" stroke="#bfbfbf" stroke-width="1.7" />
<line x1="1259.4" y1="843.8" x2="1749" y2="843.8" stroke="#bfbfbf" stroke-width="1.7" />
<line x1="1259.4" y1="979" x2="1749" y2="979" stroke="#bfbfbf" stroke-width="1.7" />
<line x1="1259.4" y1="1114" x2="1749" y2="1114" stroke="#bfbfbf" stroke-width="1.7" />
<line x1="1259.4" y1="1249.3" x2="1749" y2="1249.3" stroke="#bfbfbf" stroke-width="1.7" />
<line x1="1259.4" y1="684" x2="1259.4" y2="1371" stroke="#bfbfbf" stroke-width="1.7" />
<line x1="1380" y1="684" x2="1380" y2="1371" stroke="#bfbfbf" stroke-width="1.7" />
<line x1="1502.9" y1="684" x2="1502.9" y2="1371" stroke="#bfbfbf" stroke-width="1.7" />
<line x1="1625.6" y1="684" x2="1625.6" y2="1371" stroke="#bfbfbf" stroke-width="1.7" />
<line x1="1748.4" y1="684" x2="1748.4" y2="1371" stroke="#bfbfbf" stroke-width="1.7" />
<line x1="1246.4" y1="708.6" x2="1259.4" y2="708.6" stroke="#2b2826" stroke-width="4" />
<line x1="1246.4" y1="843.8" x2="1259.4" y2="843.8" stroke="#2b2826" stroke-width="4" />
<line x1="1246.4" y1="979" x2="1259.4" y2="979" stroke="#2b2826" stroke-width="4" />
<line x1="1246.4" y1="1114" x2="1259.4" y2="1114" stroke="#2b2826" stroke-width="4" />
<line x1="1246.4" y1="1249.3" x2="1259.4" y2="1249.3" stroke="#2b2826" stroke-width="4" />
<text x="1221.6" y="721.5" font-family="'Liberation Serif', serif" font-size="31.8" fill="#4d4d4d" text-anchor="end" font-weight="normal" font-style="normal" >125000</text>
<text x="1221.6" y="856.5" font-family="'Liberation Serif', serif" font-size="31.8" fill="#4d4d4d" text-anchor="end" font-weight="normal" font-style="normal" >100000</text>
<text x="1223.8" y="991.5" font-family="'Liberation Serif', serif" font-size="31.8" fill="#4d4d4d" text-anchor="end" font-weight="normal" font-style="normal" >75000</text>
<text x="1223.8" y="1126.5" font-family="'Liberation Serif', serif" font-size="31.8" fill="#4d4d4d" text-anchor="end" font-weight="normal" font-style="normal" >50000</text>
<text x="1223.8" y="1262.0" font-family="'Liberation Serif', serif" font-size="31.8" fill="#4d4d4d" text-anchor="end" font-weight="normal" font-style="normal" >25000</text>
<text transform="translate(1323.8,1377.3) scale(1,1)" font-family="'Liberation Sans', sans-serif" font-size="32.4" fill="#4d4d4d" text-anchor="middle">Pob3</text>
<text transform="translate(1445.9,1377.3) scale(0.94,1)" font-family="'Liberation Sans', sans-serif" font-size="32.4" fill="#4d4d4d" text-anchor="middle">Rvb1</text>
<text transform="translate(1569.7,1377.3) scale(1,1)" font-family="'Liberation Sans', sans-serif" font-size="32.4" fill="#4d4d4d" text-anchor="middle">Rvb2</text>
<text transform="translate(1692.5,1377.3) scale(1,1)" font-family="'Liberation Sans', sans-serif" font-size="32.4" fill="#4d4d4d" text-anchor="middle">Spt16</text>
<text transform="translate(1113,957) rotate(-90) scale(1,1)" font-family="'Liberation Sans', sans-serif" font-size="32.5" text-anchor="middle" fill="#000">Intensity</text>
<line x1="1291.5" y1="1219.3" x2="1291.5" y2="1226.6" stroke="#1c1c1c" stroke-width="1.7" />
<line x1="1291.5" y1="1235.8" x2="1291.5" y2="1237" stroke="#1c1c1c" stroke-width="1.7" />
<line x1="1278.5" y1="1219.3" x2="1304.5" y2="1219.3" stroke="#1c1c1c" stroke-width="1.7" />
<line x1="1278.5" y1="1237" x2="1304.5" y2="1237" stroke="#1c1c1c" stroke-width="1.7" />
<rect x="1267.7" y="1226.6" width="47.59999999999991" height="9.200000000000045" fill="#c9c9c9" stroke="#222" stroke-width="1.7"/>
<line x1="1267.7" y1="1234.5" x2="1315.3" y2="1234.5" stroke="#222" stroke-width="2.6" />
<circle cx="1291.5" cy="1230.3" r="4.6" fill="#fff" stroke="#333" stroke-width="0.8"/>
<line x1="1347.15" y1="1135" x2="1347.15" y2="1141.7" stroke="#1c1c1c" stroke-width="1.7" />
<line x1="1347.15" y1="1157.6" x2="1347.15" y2="1166.7" stroke="#1c1c1c" stroke-width="1.7" />
<line x1="1334.15" y1="1135" x2="1360.15" y2="1135" stroke="#1c1c1c" stroke-width="1.7" />
<line x1="1334.15" y1="1166.7" x2="1360.15" y2="1166.7" stroke="#1c1c1c" stroke-width="1.7" />
<rect x="1323.3" y="1141.7" width="47.700000000000045" height="15.899999999999864" fill="#a0d534" stroke="#222" stroke-width="1.7"/>
<line x1="1323.3" y1="1148.4" x2="1371" y2="1148.4" stroke="#222" stroke-width="2.6" />
<circle cx="1347" cy="1149.6" r="4.6" fill="#fff" stroke="#333" stroke-width="0.8"/>
<line x1="1413.0500000000002" y1="1173.5" x2="1413.0500000000002" y2="1174.7" stroke="#1c1c1c" stroke-width="1.7" />
<line x1="1413.0500000000002" y1="1188.7" x2="1413.0500000000002" y2="1200.3" stroke="#1c1c1c" stroke-width="1.7" />
<line x1="1400.0500000000002" y1="1173.5" x2="1426.0500000000002" y2="1173.5" stroke="#1c1c1c" stroke-width="1.7" />
<line x1="1400.0500000000002" y1="1200.3" x2="1426.0500000000002" y2="1200.3" stroke="#1c1c1c" stroke-width="1.7" />
<rect x="1389.2" y="1174.7" width="47.700000000000045" height="14.0" fill="#c9c9c9" stroke="#222" stroke-width="1.7"/>
<line x1="1389.2" y1="1176" x2="1436.9" y2="1176" stroke="#222" stroke-width="2.6" />
<circle cx="1412.4" cy="1183.2" r="4.6" fill="#fff" stroke="#333" stroke-width="0.8"/>
<line x1="1468.6" y1="1031.8" x2="1468.6" y2="1064.1" stroke="#1c1c1c" stroke-width="1.7" />
<line x1="1468.6" y1="1113.6" x2="1468.6" y2="1130" stroke="#1c1c1c" stroke-width="1.7" />
<line x1="1455.6" y1="1031.8" x2="1481.6" y2="1031.8" stroke="#1c1c1c" stroke-width="1.7" />
<line x1="1455.6" y1="1130" x2="1481.6" y2="1130" stroke="#1c1c1c" stroke-width="1.7" />
<rect x="1444.8" y="1064.1" width="47.600000000000136" height="49.5" fill="#a0d534" stroke="#222" stroke-width="1.7"/>
<line x1="1444.8" y1="1096.5" x2="1492.4" y2="1096.5" stroke="#222" stroke-width="2.6" />
<circle cx="1468.6" cy="1086" r="4.6" fill="#fff" stroke="#333" stroke-width="0.8"/>
<line x1="1537.0500000000002" y1="813" x2="1537.0500000000002" y2="836.8" stroke="#1c1c1c" stroke-width="1.7" />
<line x1="1537.0500000000002" y1="879" x2="1537.0500000000002" y2="896.7" stroke="#1c1c1c" stroke-width="1.7" />
<line x1="1529.0500000000002" y1="813" x2="1545.0500000000002" y2="813" stroke="#1c1c1c" stroke-width="1.7" />
<line x1="1529.0500000000002" y1="896.7" x2="1545.0500000000002" y2="896.7" stroke="#1c1c1c" stroke-width="1.7" />
<rect x="1513.2" y="836.8" width="47.700000000000045" height="42.200000000000045" fill="#c9c9c9" stroke="#222" stroke-width="1.7"/>
<line x1="1513.2" y1="861.3" x2="1560.9" y2="861.3" stroke="#222" stroke-width="2.6" />
<circle cx="1537" cy="856.4" r="4.6" fill="#fff" stroke="#333" stroke-width="0.8"/>
<line x1="1593.2" y1="715.9" x2="1593.2" y2="724.4" stroke="#1c1c1c" stroke-width="1.7" />
<line x1="1593.2" y1="769.6" x2="1593.2" y2="805.7" stroke="#1c1c1c" stroke-width="1.7" />
<line x1="1585.2" y1="715.9" x2="1601.2" y2="715.9" stroke="#1c1c1c" stroke-width="1.7" />
<line x1="1585.2" y1="805.7" x2="1601.2" y2="805.7" stroke="#1c1c1c" stroke-width="1.7" />
<rect x="1569.4" y="724.4" width="47.59999999999991" height="45.200000000000045" fill="#a0d534" stroke="#222" stroke-width="1.7"/>
<line x1="1569.4" y1="733" x2="1617" y2="733" stroke="#222" stroke-width="2.6" />
<circle cx="1593.2" cy="751.3" r="4.6" fill="#fff" stroke="#333" stroke-width="0.8"/>
<line x1="1656.75" y1="1309" x2="1656.75" y2="1322.5" stroke="#1c1c1c" stroke-width="1.7" />
<line x1="1656.75" y1="1338.4" x2="1656.75" y2="1340.2" stroke="#1c1c1c" stroke-width="1.7" />
<line x1="1648.75" y1="1309" x2="1664.75" y2="1309" stroke="#1c1c1c" stroke-width="1.7" />
<line x1="1648.75" y1="1340.2" x2="1664.75" y2="1340.2" stroke="#1c1c1c" stroke-width="1.7" />
<rect x="1632.9" y="1322.5" width="47.69999999999982" height="15.900000000000091" fill="#c9c9c9" stroke="#222" stroke-width="1.7"/>
<line x1="1632.9" y1="1336.5" x2="1680.6" y2="1336.5" stroke="#222" stroke-width="2.6" />
<circle cx="1656.8" cy="1328.6" r="4.6" fill="#fff" stroke="#333" stroke-width="0.8"/>
<line x1="1716.6" y1="1258.3" x2="1716.6" y2="1259.6" stroke="#1c1c1c" stroke-width="1.6" />
<line x1="1716.6" y1="1265.7" x2="1716.6" y2="1270" stroke="#1c1c1c" stroke-width="1.6" />
<line x1="1708.6" y1="1258.3" x2="1724.6" y2="1258.3" stroke="#1c1c1c" stroke-width="1.6" />
<line x1="1708.6" y1="1270" x2="1724.6" y2="1270" stroke="#1c1c1c" stroke-width="1.6" />
<rect x="1692.8" y="1259.6" width="47.600000000000136" height="6.100000000000136" fill="#a0d534" stroke="#222" stroke-width="1.6"/>
<line x1="1692.8" y1="1262.6" x2="1740.4" y2="1262.6" stroke="#222" stroke-width="0.6" />
<circle cx="1716.6" cy="1262.6" r="4.6" fill="#fff" stroke="#333" stroke-width="0.8"/>
<line x1="1050.5" y1="1511.3" x2="1176" y2="1511.3" stroke="#bfbfbf" stroke-width="1.4" />
<line x1="1050.5" y1="1649.8" x2="1176" y2="1649.8" stroke="#bfbfbf" stroke-width="1.4" />
<line x1="1050.5" y1="1788.3" x2="1176" y2="1788.3" stroke="#bfbfbf" stroke-width="1.4" />
<line x1="1050.5" y1="1927.3" x2="1176" y2="1927.3" stroke="#bfbfbf" stroke-width="1.4" />
<line x1="1050.5" y1="2065.8" x2="1176" y2="2065.8" stroke="#bfbfbf" stroke-width="1.4" />
<line x1="1050.5" y1="1580.8" x2="1176" y2="1580.8" stroke="#bfbfbf" stroke-width="1.4" />
<line x1="1050.5" y1="1719.3" x2="1176" y2="1719.3" stroke="#bfbfbf" stroke-width="1.4" />
<line x1="1050.5" y1="1857.8" x2="1176" y2="1857.8" stroke="#bfbfbf" stroke-width="1.4" />
<line x1="1050.5" y1="1996.3" x2="1176" y2="1996.3" stroke="#bfbfbf" stroke-width="1.4" />
<line x1="1050.5" y1="2135.3" x2="1176" y2="2135.3" stroke="#bfbfbf" stroke-width="1.4" />
<line x1="1050.5" y1="1479" x2="1050.5" y2="2166" stroke="#bfbfbf" stroke-width="1.4" />
<line x1="1176" y1="1479" x2="1176" y2="2166" stroke="#bfbfbf" stroke-width="1.4" />
<line x1="1039.0" y1="1580.8" x2="1050.5" y2="1580.8" stroke="#2b2826" stroke-width="4" />
<line x1="1039.0" y1="1719.3" x2="1050.5" y2="1719.3" stroke="#2b2826" stroke-width="4" />
<line x1="1039.0" y1="1857.8" x2="1050.5" y2="1857.8" stroke="#2b2826" stroke-width="4" />
<line x1="1039.0" y1="1996.3" x2="1050.5" y2="1996.3" stroke="#2b2826" stroke-width="4" />
<line x1="1039.0" y1="2135.3" x2="1050.5" y2="2135.3" stroke="#2b2826" stroke-width="4" />
<text x="1025.8" y="1593.5" font-family="'Liberation Sans', sans-serif" font-size="32.6" fill="#4d4d4d" text-anchor="end" font-weight="normal" font-style="normal" >8e+05</text>
<text x="1025.8" y="1732.0" font-family="'Liberation Sans', sans-serif" font-size="32.6" fill="#4d4d4d" text-anchor="end" font-weight="normal" font-style="normal" >7e+05</text>
<text x="1025.8" y="1870.5" font-family="'Liberation Sans', sans-serif" font-size="32.6" fill="#4d4d4d" text-anchor="end" font-weight="normal" font-style="normal" >6e+05</text>
<text x="1025.8" y="2009.0" font-family="'Liberation Sans', sans-serif" font-size="32.6" fill="#4d4d4d" text-anchor="end" font-weight="normal" font-style="normal" >5e+05</text>
<text x="1025.8" y="2148.0" font-family="'Liberation Sans', sans-serif" font-size="32.6" fill="#4d4d4d" text-anchor="end" font-weight="normal" font-style="normal" >4e+05</text>
<text transform="translate(1116,2174.2) scale(1,1)" font-family="'Liberation Sans', sans-serif" font-size="32.4" fill="#4d4d4d" text-anchor="middle">Cpr1</text>
<text transform="translate(909,1764) rotate(-90) scale(1,1)" font-family="'Liberation Sans', sans-serif" font-size="32.5" text-anchor="middle" fill="#000">Intensity</text>
<line x1="1142.25" y1="1623" x2="1142.25" y2="1635" stroke="#1c1c1c" stroke-width="1.7" />
<line x1="1142.25" y1="1716" x2="1142.25" y2="1785" stroke="#1c1c1c" stroke-width="1.7" />
<line x1="1134.25" y1="1623" x2="1150.25" y2="1623" stroke="#1c1c1c" stroke-width="1.7" />
<line x1="1134.25" y1="1785" x2="1150.25" y2="1785" stroke="#1c1c1c" stroke-width="1.7" />
<rect x="1118" y="1635" width="48.5" height="81" fill="#a0d534" stroke="#222" stroke-width="1.7"/>
<line x1="1118" y1="1646.5" x2="1166.5" y2="1646.5" stroke="#222" stroke-width="2.6" />
<circle cx="1142" cy="1685" r="4.6" fill="#fff" stroke="#333" stroke-width="0.8"/>
<line x1="1084.25" y1="1896" x2="1084.25" y2="1963" stroke="#1c1c1c" stroke-width="1.7" />
<line x1="1084.25" y1="2064" x2="1084.25" y2="2097.5" stroke="#1c1c1c" stroke-width="1.7" />
<line x1="1076.25" y1="1896" x2="1092.25" y2="1896" stroke="#1c1c1c" stroke-width="1.7" />
<line x1="1076.25" y1="2097.5" x2="1092.25" y2="2097.5" stroke="#1c1c1c" stroke-width="1.7" />
<rect x="1060" y="1963" width="48.5" height="101" fill="#c9c9c9" stroke="#222" stroke-width="1.7"/>
<line x1="1060" y1="2030.5" x2="1108.5" y2="2030.5" stroke="#222" stroke-width="2.6" />
<circle cx="1084" cy="2008" r="4.6" fill="#fff" stroke="#333" stroke-width="0.8"/>
<line x1="1388.5" y1="1505.5" x2="1633" y2="1505.5" stroke="#bfbfbf" stroke-width="1.3" />
<line x1="1388.5" y1="1659.5" x2="1633" y2="1659.5" stroke="#bfbfbf" stroke-width="1.3" />
<line x1="1388.5" y1="1813.5" x2="1633" y2="1813.5" stroke="#bfbfbf" stroke-width="1.3" />
<line x1="1388.5" y1="1967.5" x2="1633" y2="1967.5" stroke="#bfbfbf" stroke-width="1.3" />
<line x1="1388.5" y1="2121.5" x2="1633" y2="2121.5" stroke="#bfbfbf" stroke-width="1.3" />
<line x1="1388.5" y1="1583" x2="1633" y2="1583" stroke="#bfbfbf" stroke-width="1.3" />
<line x1="1388.5" y1="1737" x2="1633" y2="1737" stroke="#bfbfbf" stroke-width="1.3" />
<line x1="1388.5" y1="1890.5" x2="1633" y2="1890.5" stroke="#bfbfbf" stroke-width="1.3" />
<line x1="1388.5" y1="2044.5" x2="1633" y2="2044.5" stroke="#bfbfbf" stroke-width="1.3" />
<line x1="1388.5" y1="1479" x2="1388.5" y2="2166.5" stroke="#bfbfbf" stroke-width="1.3" />
<line x1="1511" y1="1479" x2="1511" y2="2166.5" stroke="#bfbfbf" stroke-width="1.3" />
<line x1="1633" y1="1479" x2="1633" y2="2166.5" stroke="#bfbfbf" stroke-width="1.3" />
<line x1="1377.0" y1="1583" x2="1388.5" y2="1583" stroke="#2b2826" stroke-width="4" />
<line x1="1377.0" y1="1737" x2="1388.5" y2="1737" stroke="#2b2826" stroke-width="4" />
<line x1="1377.0" y1="1890.5" x2="1388.5" y2="1890.5" stroke="#2b2826" stroke-width="4" />
<line x1="1377.0" y1="2044.5" x2="1388.5" y2="2044.5" stroke="#2b2826" stroke-width="4" />
<text x="1363" y="1596.3" font-family="'Liberation Sans', sans-serif" font-size="32.6" fill="#4d4d4d" text-anchor="end" font-weight="normal" font-style="normal" >200000</text>
<text x="1363" y="1750.3" font-family="'Liberation Sans', sans-serif" font-size="32.6" fill="#4d4d4d" text-anchor="end" font-weight="normal" font-style="normal" >150000</text>
<text x="1363" y="1903.8" font-family="'Liberation Sans', sans-serif" font-size="32.6" fill="#4d4d4d" text-anchor="end" font-weight="normal" font-style="normal" >100000</text>
<text x="1363" y="2057.8" font-family="'Liberation Sans', sans-serif" font-size="32.6" fill="#4d4d4d" text-anchor="end" font-weight="normal" font-style="normal" >50000</text>
<text transform="translate(1453,2174) scale(1,1)" font-family="'Liberation Sans', sans-serif" font-size="32.4" fill="#000" text-anchor="middle">Rvb1</text>
<text transform="translate(1574.5,2174) scale(1,1)" font-family="'Liberation Sans', sans-serif" font-size="32.4" fill="#000" text-anchor="middle">Rvb2</text>
<text transform="translate(1234,1764) rotate(-90) scale(1,1)" font-family="'Liberation Sans', sans-serif" font-size="32.5" text-anchor="middle" fill="#000">Intensity</text>
<line x1="1531.5" y1="1911" x2="1557.5" y2="1911" stroke="#111" stroke-width="3" />
<line x1="1471" y1="2087.3" x2="1486" y2="2087.3" stroke="#111" stroke-width="2.6" />
<line x1="1420.75" y1="2117" x2="1420.75" y2="2120" stroke="#1c1c1c" stroke-width="1.7" />
<line x1="1420.75" y1="2129.5" x2="1420.75" y2="2135" stroke="#1c1c1c" stroke-width="1.7" />
<line x1="1412.75" y1="2117" x2="1428.75" y2="2117" stroke="#1c1c1c" stroke-width="1.7" />
<line x1="1412.75" y1="2135" x2="1428.75" y2="2135" stroke="#1c1c1c" stroke-width="1.7" />
<rect x="1397" y="2120" width="47.5" height="9.5" fill="#c9c9c9" stroke="#222" stroke-width="1.7"/>
<line x1="1397" y1="2124.5" x2="1444.5" y2="2124.5" stroke="#222" stroke-width="1.6" />
<circle cx="1420.5" cy="2124.5" r="4.6" fill="#fff" stroke="#333" stroke-width="0.8"/>
<line x1="1478.75" y1="2072.5" x2="1478.75" y2="2077" stroke="#1c1c1c" stroke-width="1.7" />
<line x1="1478.75" y1="2085" x2="1478.75" y2="2087.5" stroke="#1c1c1c" stroke-width="1.7" />
<line x1="1470.75" y1="2072.5" x2="1486.75" y2="2072.5" stroke="#1c1c1c" stroke-width="1.7" />
<line x1="1470.75" y1="2087.5" x2="1486.75" y2="2087.5" stroke="#1c1c1c" stroke-width="1.7" />
<rect x="1455" y="2077" width="47.5" height="8" fill="#a0d534" stroke="#222" stroke-width="1.7"/>
<line x1="1455" y1="2081" x2="1502.5" y2="2081" stroke="#222" stroke-width="1.0" />
<circle cx="1478.5" cy="2081" r="4.6" fill="#fff" stroke="#333" stroke-width="0.8"/>
<line x1="1544.5" y1="1875" x2="1544.5" y2="1879.5" stroke="#1c1c1c" stroke-width="1.7" />
<line x1="1544.5" y1="1898" x2="1544.5" y2="1911" stroke="#1c1c1c" stroke-width="1.7" />
<line x1="1536.5" y1="1875" x2="1552.5" y2="1875" stroke="#1c1c1c" stroke-width="1.7" />
<line x1="1536.5" y1="1911" x2="1552.5" y2="1911" stroke="#1c1c1c" stroke-width="1.7" />
<rect x="1521" y="1879.5" width="47" height="18.5" fill="#c9c9c9" stroke="#222" stroke-width="1.7"/>
<line x1="1521" y1="1884" x2="1568" y2="1884" stroke="#222" stroke-width="1.6" />
<circle cx="1544.5" cy="1890" r="4.6" fill="#fff" stroke="#333" stroke-width="0.8"/>
<line x1="1598.75" y1="1511" x2="1598.75" y2="1608" stroke="#1c1c1c" stroke-width="1.6" />
<line x1="1598.75" y1="1746" x2="1598.75" y2="1785.5" stroke="#1c1c1c" stroke-width="1.6" />
<line x1="1590.75" y1="1511" x2="1606.75" y2="1511" stroke="#1c1c1c" stroke-width="1.6" />
<line x1="1590.75" y1="1785.5" x2="1606.75" y2="1785.5" stroke="#1c1c1c" stroke-width="1.6" />
<rect x="1575.5" y="1608" width="46.5" height="138" fill="#a0d534" stroke="#222" stroke-width="1.6"/>
<line x1="1575.5" y1="1706" x2="1622" y2="1706" stroke="#222" stroke-width="2.0" />
<circle cx="1598.5" cy="1667.5" r="4.6" fill="#fff" stroke="#333" stroke-width="0.8"/>
<line x1="953.5" y1="2284.5" x2="953.5" y2="2312" stroke="#1c1c1c" stroke-width="2.0" />
<line x1="953.5" y1="2361" x2="953.5" y2="2387.5" stroke="#1c1c1c" stroke-width="2.0" />
<line x1="945.5" y1="2284.5" x2="961.5" y2="2284.5" stroke="#1c1c1c" stroke-width="2.0" />
<line x1="945.5" y1="2387.5" x2="961.5" y2="2387.5" stroke="#1c1c1c" stroke-width="2.0" />
<rect x="929.5" y="2312" width="48.0" height="49" fill="#a0d534" stroke="#222" stroke-width="1.7"/>
<line x1="929.5" y1="2336" x2="977.5" y2="2336" stroke="#222" stroke-width="2.6" />
<circle cx="953.5" cy="2336.5" r="4.6" fill="#fff" stroke="#333" stroke-width="0.8"/>
<text x="992.5" y="2343.2" font-family="'Liberation Sans', sans-serif" font-size="32.5" fill="#000" text-anchor="start" font-weight="normal" font-style="normal" >BirA*-dCas9-gRNA</text>
<line x1="1440.5" y1="2284.5" x2="1440.5" y2="2312" stroke="#1c1c1c" stroke-width="2.0" />
<line x1="1440.5" y1="2361" x2="1440.5" y2="2387.5" stroke="#1c1c1c" stroke-width="2.0" />
<line x1="1432.5" y1="2284.5" x2="1448.5" y2="2284.5" stroke="#1c1c1c" stroke-width="2.0" />
<line x1="1432.5" y1="2387.5" x2="1448.5" y2="2387.5" stroke="#1c1c1c" stroke-width="2.0" />
<rect x="1416.5" y="2312" width="48.0" height="49" fill="#c9c9c9" stroke="#222" stroke-width="1.7"/>
<line x1="1416.5" y1="2336" x2="1464.5" y2="2336" stroke="#222" stroke-width="2.6" />
<circle cx="1440.5" cy="2336.5" r="4.6" fill="#fff" stroke="#333" stroke-width="0.8"/>
<text x="1487" y="2343.2" font-family="'Liberation Sans', sans-serif" font-size="32.5" fill="#000" text-anchor="start" font-weight="normal" font-style="normal" >BirA*-dCas9</text>
<line x1="149.5" y1="228.0" x2="149.5" y2="243.75" stroke="#000" stroke-width="2.1" />
<line x1="165.0" y1="222.5" x2="165.0" y2="242.0" stroke="#000" stroke-width="2.1" />
<line x1="178.5" y1="219.5" x2="178.5" y2="235.5" stroke="#000" stroke-width="2.1" />
<line x1="227.0" y1="212.5" x2="227.0" y2="225.0" stroke="#000" stroke-width="2.1" />
<line x1="247.5" y1="212.0" x2="247.5" y2="241.25" stroke="#000" stroke-width="2.1" />
<line x1="263.5" y1="212.5" x2="263.5" y2="245.0" stroke="#000" stroke-width="2.1" />
<line x1="279.25" y1="217.5" x2="279.25" y2="248.0" stroke="#000" stroke-width="2.1" />
<line x1="293.25" y1="224.5" x2="293.25" y2="243.25" stroke="#000" stroke-width="2.1" />
<line x1="334.25" y1="221.25" x2="334.25" y2="234.5" stroke="#000" stroke-width="2.1" />
<line x1="347.5" y1="215.75" x2="347.5" y2="236.75" stroke="#000" stroke-width="2.1" />
<line x1="366.5" y1="213.75" x2="366.5" y2="235.0" stroke="#000" stroke-width="2.1" />
<line x1="382.5" y1="213.75" x2="382.5" y2="226.25" stroke="#000" stroke-width="2.1" />
<line x1="430.0" y1="212.5" x2="430.0" y2="228.75" stroke="#000" stroke-width="2.1" />
<line x1="446.25" y1="212.5" x2="446.25" y2="234.5" stroke="#000" stroke-width="2.1" />
<line x1="463.75" y1="213.0" x2="463.75" y2="240.0" stroke="#000" stroke-width="2.1" />
<line x1="478.75" y1="221.25" x2="478.75" y2="243.0" stroke="#000" stroke-width="2.1" />
<line x1="492.0" y1="228.25" x2="492.0" y2="240.5" stroke="#000" stroke-width="2.1" />
<path d="M110.0,231.8C112.5,232.8 118.2,235.1 125.0,238.0C131.8,240.9 141.8,248.2 151.0,249.0C160.2,249.8 170.6,247.5 180.0,242.5C189.4,237.5 197.5,224.6 207.5,219.0C217.5,213.4 228.8,209.7 240.0,209.0C251.2,208.3 262.5,211.4 275.0,215.0C287.5,218.6 302.9,227.0 315.0,230.8C327.1,234.6 337.5,237.5 347.5,238.0C357.5,238.5 365.2,237.0 375.0,233.8C384.8,230.6 395.6,222.6 406.0,218.8C416.4,215.0 426.0,211.0 437.5,210.8C449.0,210.6 462.6,213.3 475.0,217.5C487.4,221.7 505.8,232.9 512.0,236.0" fill="none" stroke="#000" stroke-width="2.2" stroke-linecap="round" stroke-linejoin="round"/>
<path d="M115.5,250.5C117.1,248.4 119.2,242.8 125.0,238.0C130.8,233.2 140.4,225.7 150.0,222.0C159.6,218.3 172.9,216.3 182.5,215.8C192.1,215.3 199.6,216.6 207.5,219.0C215.4,221.4 218.3,224.8 230.0,230.0C241.7,235.2 266.2,247.5 277.5,250.0C288.8,252.5 291.2,248.2 297.5,245.0C303.8,241.8 307.9,235.5 315.0,230.8C322.1,226.1 331.2,220.5 340.0,217.0C348.8,213.5 359.6,210.8 367.5,210.0C375.4,209.2 381.1,211.0 387.5,212.5C393.9,214.0 399.8,216.3 406.0,218.8C412.2,221.3 417.7,224.1 425.0,227.5C432.3,230.9 441.7,236.4 450.0,239.0C458.3,241.6 466.7,242.9 475.0,243.0C483.3,243.1 493.5,241.0 500.0,239.5C506.5,238.0 511.7,234.9 514.0,234.0" fill="none" stroke="#000" stroke-width="2.2" stroke-linecap="round" stroke-linejoin="round"/>
<path d="M182.5,215.8C192.1,215.3 199.6,216.6 207.5,219.0" fill="none" stroke="#000" stroke-width="3.2" stroke-linecap="round"/>
<path d="M125.0,238.0C131.8,240.9 141.8,248.2 151.0,249.0C160.2,249.8 170.6,247.5 180.0,242.5" fill="none" stroke="#000" stroke-width="2.8" stroke-linecap="round"/>
<path d="M230.0,230.0C241.7,235.2 266.2,247.5 277.5,250.0C288.8,252.5 291.2,248.2 297.5,245.0" fill="none" stroke="#000" stroke-width="3.2" stroke-linecap="round"/>
<path d="M375.0,233.8C384.8,230.6 395.6,222.6 406.0,218.8" fill="none" stroke="#000" stroke-width="3.0" stroke-linecap="round"/>
<path d="M450.0,239.0C458.3,241.6 466.7,242.9 475.0,243.0C483.3,243.1 493.5,241.0 500.0,239.5" fill="none" stroke="#000" stroke-width="3.0" stroke-linecap="round"/>
<defs><linearGradient id="gdc" gradientUnits="userSpaceOnUse" x1="682" y1="0" x2="1050" y2="0"><stop offset="0" stop-color="#111111"/><stop offset="0.06" stop-color="#303030"/><stop offset="0.15" stop-color="#5a5a5a"/><stop offset="0.26" stop-color="#8c8c8c"/><stop offset="0.38" stop-color="#b4b4b4"/><stop offset="0.5" stop-color="#d0d0d0"/><stop offset="0.62" stop-color="#e4e4e4"/><stop offset="0.75" stop-color="#f2f2f2"/><stop offset="0.88" stop-color="#fcfcfc"/><stop offset="1" stop-color="#ffffff"/></linearGradient></defs>
<clipPath id="cl1"><rect x="480.0" y="212.0" width="300.0" height="250.0"/></clipPath>
<g clip-path="url(#cl1)"><path d="M586.2,201.7C590.9,200.1 601.2,201.3 607.1,199.2C613.0,197.0 618.0,189.4 621.6,188.6C625.3,187.8 627.0,192.3 629.3,194.2C631.5,196.2 633.9,198.4 635.1,200.2C636.2,202.1 636.7,203.8 636.2,205.1C635.6,206.5 634.5,207.4 631.6,208.6C628.8,209.8 622.3,210.7 618.9,212.2C615.5,213.7 612.5,215.5 611.1,217.7C609.8,219.9 609.3,222.8 610.8,225.3C612.2,227.8 617.4,230.1 619.8,232.6C622.3,235.0 625.0,237.4 625.3,239.8C625.6,242.3 623.5,245.1 621.6,247.1C619.8,249.1 617.1,251.0 614.4,251.6C611.7,252.2 607.4,251.8 605.3,250.7C603.2,249.7 603.2,247.4 601.7,245.3C600.2,243.2 598.3,240.4 596.2,238.0C594.1,235.6 591.4,232.6 589.0,230.8C586.5,228.9 583.5,228.6 581.7,227.1C579.9,225.6 578.5,224.7 578.1,221.7C577.6,218.6 577.6,212.3 579.0,209.0C580.3,205.6 581.5,203.3 586.2,201.7Z" fill="#0d0d0d" stroke="#0d0d0d" stroke-width="1.9" stroke-linejoin="round" transform="translate(2.0,1.5)"/></g>
<path d="M586.2,201.7C590.9,200.1 601.2,201.3 607.1,199.2C613.0,197.0 618.0,189.4 621.6,188.6C625.3,187.8 627.0,192.3 629.3,194.2C631.5,196.2 633.9,198.4 635.1,200.2C636.2,202.1 636.7,203.8 636.2,205.1C635.6,206.5 634.5,207.4 631.6,208.6C628.8,209.8 622.3,210.7 618.9,212.2C615.5,213.7 612.5,215.5 611.1,217.7C609.8,219.9 609.3,222.8 610.8,225.3C612.2,227.8 617.4,230.1 619.8,232.6C622.3,235.0 625.0,237.4 625.3,239.8C625.6,242.3 623.5,245.1 621.6,247.1C619.8,249.1 617.1,251.0 614.4,251.6C611.7,252.2 607.4,251.8 605.3,250.7C603.2,249.7 603.2,247.4 601.7,245.3C600.2,243.2 598.3,240.4 596.2,238.0C594.1,235.6 591.4,232.6 589.0,230.8C586.5,228.9 583.5,228.6 581.7,227.1C579.9,225.6 578.5,224.7 578.1,221.7C577.6,218.6 577.6,212.3 579.0,209.0C580.3,205.6 581.5,203.3 586.2,201.7Z" fill="#869091" stroke="#2a2a2a" stroke-width="1.3" stroke-linejoin="round"/>
<path d="M578.1,209.0 L581.5,209.0 L581.2,220.5 L578.4,222.0Z" fill="#ecede0"/>
<g><path d="M517.2,163.6C519.5,161.1 524.3,161.6 527.2,161.7C530.1,161.9 532.4,162.7 534.5,164.5C536.6,166.3 537.8,170.2 539.9,172.6C542.0,175.1 544.2,177.8 547.2,179.0C550.2,180.2 554.6,179.4 558.1,179.9C561.6,180.4 565.4,180.5 568.1,181.7C570.8,182.9 574.0,184.4 574.4,187.2C574.9,189.9 572.6,195.0 570.8,198.1C569.0,201.1 565.7,202.6 563.5,205.3C561.4,208.1 559.0,211.7 558.1,214.4C557.2,217.1 558.7,218.9 558.1,221.7C557.5,224.4 556.3,228.0 554.5,230.8C552.6,233.5 549.9,237.1 547.2,238.0C544.5,238.9 541.7,236.0 538.1,236.2C534.5,236.3 529.6,238.9 525.4,238.9C521.2,238.9 516.5,237.6 512.7,236.2C508.9,234.8 504.7,233.5 502.7,230.8C500.7,228.0 500.1,223.8 500.9,219.9C501.6,215.9 505.3,212.0 507.2,207.1C509.2,202.3 511.6,195.9 512.7,190.8C513.7,185.7 512.8,180.8 513.6,176.3C514.4,171.7 515.0,166.0 517.2,163.6Z" fill="#0d0d0d" stroke="#0d0d0d" stroke-width="2.8000000000000003" stroke-linejoin="round" transform="translate(-1.2,-1.0)"/></g>
<path d="M517.2,163.6C519.5,161.1 524.3,161.6 527.2,161.7C530.1,161.9 532.4,162.7 534.5,164.5C536.6,166.3 537.8,170.2 539.9,172.6C542.0,175.1 544.2,177.8 547.2,179.0C550.2,180.2 554.6,179.4 558.1,179.9C561.6,180.4 565.4,180.5 568.1,181.7C570.8,182.9 574.0,184.4 574.4,187.2C574.9,189.9 572.6,195.0 570.8,198.1C569.0,201.1 565.7,202.6 563.5,205.3C561.4,208.1 559.0,211.7 558.1,214.4C557.2,217.1 558.7,218.9 558.1,221.7C557.5,224.4 556.3,228.0 554.5,230.8C552.6,233.5 549.9,237.1 547.2,238.0C544.5,238.9 541.7,236.0 538.1,236.2C534.5,236.3 529.6,238.9 525.4,238.9C521.2,238.9 516.5,237.6 512.7,236.2C508.9,234.8 504.7,233.5 502.7,230.8C500.7,228.0 500.1,223.8 500.9,219.9C501.6,215.9 505.3,212.0 507.2,207.1C509.2,202.3 511.6,195.9 512.7,190.8C513.7,185.7 512.8,180.8 513.6,176.3C514.4,171.7 515.0,166.0 517.2,163.6Z" fill="#a9a9a9" stroke="#0d0d0d" stroke-width="2.2" stroke-linejoin="round"/>
<line x1="630.9079903147699" y1="208.9588377723971" x2="631.4079903147699" y2="228.02663438256658" stroke="#000" stroke-width="2.0" />
<line x1="644.5278450363196" y1="208.9588377723971" x2="645.0278450363196" y2="228.02663438256658" stroke="#000" stroke-width="2.0" />
<line x1="658.1476997578693" y1="208.9588377723971" x2="658.6476997578693" y2="228.02663438256658" stroke="#000" stroke-width="2.0" />
<line x1="672.3123486682808" y1="208.9588377723971" x2="672.8123486682808" y2="225.30266343825667" stroke="#000" stroke-width="2.0" />
<path d="M610.7,218.0C612.6,218.8 618.0,221.1 622.0,222.6C626.0,224.1 630.1,225.8 634.4,227.1C638.7,228.4 643.5,229.7 648.0,230.5C652.5,231.3 656.3,232.3 661.6,231.7C666.9,231.1 674.3,229.4 679.8,227.1C685.2,224.8 689.8,221.3 694.3,218.0C698.8,214.7 699.4,211.5 707.0,207.1C714.6,202.7 734.4,194.4 739.9,191.8" fill="none" stroke="#000" stroke-width="2.2" stroke-linecap="round" stroke-linejoin="round"/>
<path d="M581.7,227.1C584.1,225.9 590.8,222.5 596.2,219.9C601.7,217.3 608.0,213.7 614.4,211.7C620.8,209.7 626.5,208.6 634.4,208.0C642.3,207.4 652.5,207.5 661.6,208.0C670.7,208.5 680.9,210.0 688.8,210.8C696.7,211.6 702.5,211.8 708.8,213.0C715.1,214.2 723.6,217.1 726.6,217.9" fill="none" stroke="#000" stroke-width="2.2" stroke-linecap="round" stroke-linejoin="round"/>
<path d="M588.1,205.3C588.2,208.4 585.8,222.0 589.0,223.5C592.1,225.0 607.3,217.4 607.1,214.4C607.0,211.4 591.2,206.8 588.1,205.3" fill="none" stroke="#000" stroke-width="1.6" stroke-linecap="round" stroke-linejoin="round"/>
<g><path d="M531.8,129.1C533.9,125.4 539.5,123.8 543.6,123.2C547.6,122.6 551.7,123.7 556.3,125.4C560.8,127.1 566.3,131.3 570.8,133.6C575.3,135.9 579.0,138.1 583.5,139.0C588.1,140.0 593.2,139.3 598.0,139.0C602.9,138.7 608.9,136.9 612.6,137.2C616.2,137.5 618.5,138.9 619.8,140.9C621.2,142.8 621.2,146.2 620.7,149.0C620.3,151.9 618.2,154.2 617.1,158.1C616.0,162.0 613.9,168.7 614.4,172.6C614.8,176.6 618.6,178.7 619.8,181.7C621.0,184.7 621.9,188.2 621.6,190.8C621.3,193.4 620.4,195.9 618.0,197.2C615.6,198.4 611.4,198.2 607.1,198.1C602.9,197.9 596.8,196.9 592.6,196.2C588.4,195.6 585.0,195.3 581.7,194.4C578.4,193.5 575.0,192.0 572.6,190.8C570.2,189.6 567.9,188.5 567.2,187.2C566.4,185.8 568.4,183.8 568.1,182.6C567.8,181.4 567.9,180.5 565.4,179.9C562.8,179.3 556.3,179.6 552.6,179.0C549.0,178.4 546.0,177.9 543.6,176.3C541.1,174.6 539.8,172.0 538.1,169.0C536.4,166.0 534.8,162.0 533.6,158.1C532.4,154.2 531.2,150.2 530.8,145.4C530.5,140.6 529.6,132.7 531.8,129.1Z" fill="#0d0d0d" stroke="#0d0d0d" stroke-width="2.6" stroke-linejoin="round" transform="translate(0.6,0.9)"/></g>
<path d="M531.8,129.1C533.9,125.4 539.5,123.8 543.6,123.2C547.6,122.6 551.7,123.7 556.3,125.4C560.8,127.1 566.3,131.3 570.8,133.6C575.3,135.9 579.0,138.1 583.5,139.0C588.1,140.0 593.2,139.3 598.0,139.0C602.9,138.7 608.9,136.9 612.6,137.2C616.2,137.5 618.5,138.9 619.8,140.9C621.2,142.8 621.2,146.2 620.7,149.0C620.3,151.9 618.2,154.2 617.1,158.1C616.0,162.0 613.9,168.7 614.4,172.6C614.8,176.6 618.6,178.7 619.8,181.7C621.0,184.7 621.9,188.2 621.6,190.8C621.3,193.4 620.4,195.9 618.0,197.2C615.6,198.4 611.4,198.2 607.1,198.1C602.9,197.9 596.8,196.9 592.6,196.2C588.4,195.6 585.0,195.3 581.7,194.4C578.4,193.5 575.0,192.0 572.6,190.8C570.2,189.6 567.9,188.5 567.2,187.2C566.4,185.8 568.4,183.8 568.1,182.6C567.8,181.4 567.9,180.5 565.4,179.9C562.8,179.3 556.3,179.6 552.6,179.0C549.0,178.4 546.0,177.9 543.6,176.3C541.1,174.6 539.8,172.0 538.1,169.0C536.4,166.0 534.8,162.0 533.6,158.1C532.4,154.2 531.2,150.2 530.8,145.4C530.5,140.6 529.6,132.7 531.8,129.1Z" fill="#ecede0" stroke="#0d0d0d" stroke-width="2.0" stroke-linejoin="round"/>
<g><path d="M559.9,203.5C560.8,201.2 564.1,201.7 565.4,202.6C566.6,203.5 565.7,207.7 567.2,209.0C568.7,210.2 572.9,208.4 574.4,209.9C575.9,211.4 575.6,215.5 576.2,218.0C576.9,220.6 576.2,222.9 578.1,225.3C579.9,227.7 584.1,230.1 587.1,232.6C590.2,235.0 594.0,237.1 596.2,239.8C598.5,242.6 600.5,245.9 600.8,248.9C601.1,251.9 599.7,255.6 598.0,258.0C596.4,260.4 591.1,261.3 590.8,263.4C590.5,265.6 595.3,268.3 596.2,270.7C597.1,273.1 597.4,276.2 596.2,278.0C595.0,279.8 592.0,280.4 589.0,281.6C585.9,282.8 581.4,283.7 578.1,285.2C574.7,286.7 571.7,289.2 569.0,290.7C566.3,292.2 564.1,294.2 561.7,294.3C559.3,294.5 556.0,293.7 554.5,291.6C552.9,289.5 553.5,285.1 552.6,281.6C551.7,278.1 550.8,273.7 549.0,270.7C547.2,267.7 544.5,265.3 541.7,263.4C539.0,261.6 534.9,261.6 532.7,259.8C530.4,258.0 528.4,255.3 528.1,252.5C527.8,249.8 528.9,245.9 530.8,243.5C532.8,241.0 536.6,239.5 539.9,238.0C543.3,236.5 547.8,236.5 550.8,234.4C553.8,232.3 556.6,228.3 558.1,225.3C559.6,222.3 559.6,219.9 559.9,216.2C560.2,212.6 559.0,205.8 559.9,203.5Z" fill="#0d0d0d" stroke="#0d0d0d" stroke-width="2.6" stroke-linejoin="round" transform="translate(-1.0,1.2)"/></g>
<path d="M559.9,203.5C560.8,201.2 564.1,201.7 565.4,202.6C566.6,203.5 565.7,207.7 567.2,209.0C568.7,210.2 572.9,208.4 574.4,209.9C575.9,211.4 575.6,215.5 576.2,218.0C576.9,220.6 576.2,222.9 578.1,225.3C579.9,227.7 584.1,230.1 587.1,232.6C590.2,235.0 594.0,237.1 596.2,239.8C598.5,242.6 600.5,245.9 600.8,248.9C601.1,251.9 599.7,255.6 598.0,258.0C596.4,260.4 591.1,261.3 590.8,263.4C590.5,265.6 595.3,268.3 596.2,270.7C597.1,273.1 597.4,276.2 596.2,278.0C595.0,279.8 592.0,280.4 589.0,281.6C585.9,282.8 581.4,283.7 578.1,285.2C574.7,286.7 571.7,289.2 569.0,290.7C566.3,292.2 564.1,294.2 561.7,294.3C559.3,294.5 556.0,293.7 554.5,291.6C552.9,289.5 553.5,285.1 552.6,281.6C551.7,278.1 550.8,273.7 549.0,270.7C547.2,267.7 544.5,265.3 541.7,263.4C539.0,261.6 534.9,261.6 532.7,259.8C530.4,258.0 528.4,255.3 528.1,252.5C527.8,249.8 528.9,245.9 530.8,243.5C532.8,241.0 536.6,239.5 539.9,238.0C543.3,236.5 547.8,236.5 550.8,234.4C553.8,232.3 556.6,228.3 558.1,225.3C559.6,222.3 559.6,219.9 559.9,216.2C560.2,212.6 559.0,205.8 559.9,203.5Z" fill="#c1d8ef" stroke="#0d0d0d" stroke-width="2.0" stroke-linejoin="round"/>
<polygon points="616.0,149.2 621.0,157.2 631.4,157.6 624.3,164.2 627.0,173.0 617.6,169.1 609.0,174.1 610.3,165.1 602.2,159.4 612.4,157.7" fill="#3d9dc3" stroke="#111" stroke-width="1.3" stroke-linejoin="miter"/>
<polygon points="552.4,187.4 555.8,196.0 565.9,198.0 557.6,203.4 558.5,212.5 550.1,207.2 540.5,210.8 543.6,202.1 536.8,195.3 547.1,195.2" fill="#3d9dc3" stroke="#111" stroke-width="1.3" stroke-linejoin="miter"/>
<polygon points="574.5,186.4 579.4,194.4 589.7,195.0 582.5,201.6 585.0,210.4 575.7,206.4 567.0,211.2 568.4,202.2 560.5,196.4 570.7,194.8" fill="#3d9dc3" stroke="#111" stroke-width="1.3" stroke-linejoin="miter"/>
<polygon points="600.2,273.7 603.2,282.4 613.2,284.7 604.7,289.9 605.3,299.0 597.0,293.5 587.3,296.8 590.8,288.2 584.2,281.1 594.6,281.3" fill="#3d9dc3" stroke="#111" stroke-width="1.3" stroke-linejoin="miter"/>
<path d="M926.3,1.3C936.6,1.2 953.9,0.7 966.3,4.0C978.7,7.3 990.7,13.1 1000.9,21.3C1011.1,29.5 1020.5,41.7 1027.6,53.3C1034.7,64.8 1039.8,77.2 1043.5,90.6C1047.3,103.9 1049.5,119.4 1050.2,133.2C1050.9,146.9 1049.5,160.7 1047.5,173.1C1045.5,185.6 1042.9,196.7 1038.2,207.7C1033.5,218.8 1026.7,230.4 1019.6,239.7C1012.5,249.0 1004.5,256.6 995.6,263.7C986.7,270.8 975.6,278.3 966.3,282.3C957.0,286.3 948.5,287.4 939.7,287.7C930.8,287.9 921.9,285.4 913.0,283.7C904.1,281.9 895.7,278.6 886.4,277.0C877.1,275.4 866.4,274.1 857.1,274.3C847.8,274.6 839.3,276.6 830.5,278.3C821.6,280.1 812.3,283.5 803.8,285.0C795.4,286.5 788.3,287.6 779.9,287.1C771.4,286.7 761.2,284.2 753.2,282.3C745.2,280.4 738.6,278.8 731.9,275.7C725.3,272.6 719.0,268.3 713.3,263.7C707.5,259.0 701.7,253.9 697.3,247.7C692.8,241.5 689.2,234.4 686.6,226.4C684.1,218.4 682.4,208.6 681.8,199.8C681.3,190.9 682.2,181.1 683.4,173.1C684.7,165.1 686.5,158.0 689.3,151.8C692.1,145.6 695.5,140.5 700.0,135.8C704.4,131.2 709.7,126.7 715.9,123.8C722.1,121.0 728.8,119.5 737.2,118.5C745.7,117.5 757.2,117.7 766.5,117.7C775.9,117.7 785.2,119.1 793.2,118.5C801.2,118.0 808.3,117.0 814.5,114.5C820.7,112.1 826.5,108.3 830.5,103.9C834.5,99.4 836.2,93.7 838.5,87.9C840.7,82.1 841.6,75.5 843.8,69.2C846.0,63.0 848.2,57.3 851.8,50.6C855.3,43.9 859.3,35.5 865.1,29.3C870.9,23.1 879.7,17.4 886.4,13.3C893.1,9.2 898.4,6.8 905.0,4.8C911.7,2.8 916.1,1.5 926.3,1.3Z" fill="url(#gdc)" stroke="#000" stroke-width="1.8"/>
<path d="M843.8,69.2C845.1,66.1 848.2,57.3 851.8,50.6C855.3,43.9 862.9,32.8 865.1,29.3" fill="none" stroke="#000" stroke-width="2.6" stroke-linecap="round" stroke-linejoin="round"/>
<path d="M1043.5,90.6C1044.6,97.7 1049.5,119.4 1050.2,133.2C1050.9,146.9 1049.5,160.7 1047.5,173.1C1045.5,185.6 1042.9,196.7 1038.2,207.7C1033.5,218.8 1022.7,234.4 1019.6,239.7" fill="none" stroke="#000" stroke-width="2.6" stroke-linecap="round" stroke-linejoin="round"/>
<text x="925.5" y="44.5" font-family="'Liberation Sans', sans-serif" font-size="32.5" fill="#000" text-anchor="middle" font-weight="normal" font-style="normal" >dCas9</text>
<path d="M661.6,231.7C664.6,230.9 674.3,229.4 679.8,227.1C685.2,224.8 689.8,221.3 694.3,218.0C698.8,214.7 699.4,211.5 707.0,207.1C714.6,202.7 729.1,197.2 739.9,191.8C750.7,186.4 758.6,178.4 771.9,174.5C785.2,170.6 802.9,169.0 819.8,168.3C836.7,167.6 857.6,168.4 873.1,170.5C888.6,172.6 901.9,176.7 913.0,181.1C924.1,185.5 931.7,191.8 939.7,197.1C947.7,202.4 955.2,209.1 961.0,213.1C966.8,217.1 972.1,219.8 974.3,221.1" fill="none" stroke="#000" stroke-width="2.3" stroke-linecap="round" stroke-linejoin="round"/>
<path d="M661.6,208.0C666.1,208.5 680.9,210.0 688.8,210.8C696.7,211.6 702.5,211.8 708.8,213.0C715.1,214.2 719.2,215.2 726.6,217.9C734.0,220.6 744.3,225.7 753.2,229.1C762.1,232.5 768.8,235.5 779.9,238.4C791.0,241.3 806.5,244.9 819.8,246.4C833.1,247.9 846.5,248.6 859.8,247.7C873.1,246.8 888.6,243.7 899.7,241.0C910.8,238.3 917.4,236.3 926.3,231.7C935.2,227.0 946.3,217.8 953.0,213.1C959.7,208.4 964.2,205.1 966.5,203.5" fill="none" stroke="#000" stroke-width="1.8" stroke-linecap="round" stroke-linejoin="round"/>
<path d="M764.4,197.1C773.6,197.2 801.7,197.6 819.8,197.6C837.9,197.6 859.8,198.1 873.1,197.1C886.4,196.1 892.6,194.4 899.7,191.8C906.8,189.1 911.3,186.4 915.7,181.1C920.1,175.8 923.9,167.8 926.3,159.8C928.8,151.8 929.7,142.1 930.3,133.2C931.0,124.3 931.0,114.5 930.3,106.5C929.7,98.5 927.5,91.0 926.3,85.2C925.2,79.5 923.2,75.7 923.7,71.9C924.1,68.1 925.5,64.8 929.0,62.6C932.6,60.4 939.7,58.7 945.0,58.6C950.3,58.5 957.1,59.6 961.0,61.8C964.9,64.0 967.3,68.5 968.4,71.9C969.5,75.4 969.3,78.1 967.6,82.6C965.9,87.0 961.4,94.1 958.3,98.5C955.2,103.0 951.2,104.8 949.0,109.2C946.8,113.6 946.1,119.4 945.0,125.2C943.9,131.0 942.8,138.5 942.3,143.8C941.9,149.2 941.4,153.8 942.3,157.1C943.2,160.5 945.4,163.4 947.7,163.8C949.9,164.2 953.4,162.2 955.6,159.8C957.9,157.4 959.6,153.6 961.0,149.2C962.3,144.7 963.0,138.9 963.6,133.2C964.3,127.4 964.1,119.9 965.0,114.5C965.9,109.2 967.0,104.0 969.0,101.2C971.0,98.5 974.3,97.8 976.9,98.0C979.6,98.2 983.1,100.2 984.9,102.5C986.8,104.9 988.4,107.6 988.1,111.9C987.9,116.1 985.7,122.5 983.6,127.8C981.5,133.2 977.8,138.9 975.6,143.8C973.4,148.7 971.4,153.6 970.3,157.1C969.2,160.7 968.7,162.5 969.0,165.1C969.2,167.8 970.5,171.3 971.6,173.1C972.7,175.0 975.0,175.8 975.6,176.3" fill="none" stroke="#000" stroke-width="1.5" stroke-linecap="round" stroke-linejoin="round"/>
<path d="M963.6,133.2C963.9,130.1 964.1,119.9 965.0,114.5C965.9,109.2 967.0,104.0 969.0,101.2C971.0,98.5 974.3,97.8 976.9,98.0C979.6,98.2 983.1,100.2 984.9,102.5C986.8,104.9 988.4,107.6 988.1,111.9C987.9,116.1 984.4,125.2 983.6,127.8" fill="none" stroke="#000" stroke-width="2.6" stroke-linecap="round" stroke-linejoin="round"/>
<path d="M942.3,157.1C943.2,158.3 945.4,163.4 947.7,163.8C949.9,164.2 954.3,160.5 955.6,159.8" fill="none" stroke="#000" stroke-width="2.6" stroke-linecap="round" stroke-linejoin="round"/>
<line x1="771.3317191283293" y1="175.78692493946733" x2="771.3317191283293" y2="194.43099273607749" stroke="#9a32c8" stroke-width="2.2" />
<line x1="787.8450363196126" y1="171.79176755447943" x2="787.8450363196126" y2="194.43099273607749" stroke="#9a32c8" stroke-width="2.2" />
<line x1="804.6246973365618" y1="171.79176755447943" x2="804.6246973365618" y2="194.43099273607749" stroke="#9a32c8" stroke-width="2.2" />
<line x1="818.7409200968523" y1="170.99273607748185" x2="818.7409200968523" y2="194.43099273607749" stroke="#9a32c8" stroke-width="2.2" />
<line x1="832.590799031477" y1="170.99273607748185" x2="832.590799031477" y2="194.43099273607749" stroke="#9a32c8" stroke-width="2.2" />
<line x1="844.5762711864406" y1="171.79176755447943" x2="844.5762711864406" y2="194.43099273607749" stroke="#9a32c8" stroke-width="2.2" />
<line x1="859.2251815980629" y1="172.590799031477" x2="859.2251815980629" y2="194.43099273607749" stroke="#9a32c8" stroke-width="2.2" />
<line x1="876.0048426150121" y1="172.590799031477" x2="876.0048426150121" y2="194.43099273607749" stroke="#9a32c8" stroke-width="2.2" />
<line x1="889.8547215496368" y1="174.45520581113803" x2="889.8547215496368" y2="194.43099273607749" stroke="#9a32c8" stroke-width="2.2" />
<line x1="930.3389830508474" y1="113.19612590799032" x2="943.6561743341405" y2="113.19612590799032" stroke="#000" stroke-width="1.7" />
<line x1="930.3389830508474" y1="123.8498789346247" x2="943.6561743341405" y2="123.8498789346247" stroke="#000" stroke-width="1.7" />
<line x1="930.3389830508474" y1="135.83535108958839" x2="943.6561743341405" y2="135.83535108958839" stroke="#000" stroke-width="1.7" />
<line x1="930.3389830508474" y1="147.82082324455206" x2="943.6561743341405" y2="147.82082324455206" stroke="#000" stroke-width="1.7" />
<line x1="962.3002421307506" y1="139.83050847457628" x2="972.1549636803875" y2="139.83050847457628" stroke="#000" stroke-width="1.7" />
<line x1="962.3002421307506" y1="151.81598062953995" x2="972.1549636803875" y2="151.81598062953995" stroke="#000" stroke-width="1.7" />
<line x1="962.3002421307506" y1="159.80629539951573" x2="972.1549636803875" y2="159.80629539951573" stroke="#000" stroke-width="1.7" />
<line x1="982.8571428571429" y1="200.95641646489105" x2="982.8571428571429" y2="223.78934624697337" stroke="#000" stroke-width="2.0" />
<line x1="998.728813559322" y1="201.5133171912833" x2="999.728813559322" y2="232.14285714285714" stroke="#000" stroke-width="2.0" />
<line x1="1012.6513317191283" y1="207.08232445520582" x2="1012.6513317191283" y2="241.88861985472153" stroke="#000" stroke-width="2.0" />
<line x1="1029.358353510896" y1="216.8280871670702" x2="1030.358353510896" y2="246.06537530266343" stroke="#000" stroke-width="2.0" />
<line x1="1045.230024213075" y1="225.18159806295398" x2="1045.230024213075" y2="247.45762711864407" stroke="#000" stroke-width="2.0" />
<line x1="1088.3898305084745" y1="224.62469733656172" x2="1088.3898305084745" y2="240.4963680387409" stroke="#000" stroke-width="2.0" />
<line x1="1102.590799031477" y1="209.86682808716705" x2="1102.590799031477" y2="234.9273607748184" stroke="#000" stroke-width="2.0" />
<line x1="1114.8426150121065" y1="208.47457627118644" x2="1114.8426150121065" y2="227.96610169491527" stroke="#000" stroke-width="2.0" />
<line x1="1125.4237288135594" y1="208.47457627118644" x2="1125.4237288135594" y2="221.8401937046005" stroke="#000" stroke-width="2.0" />
<line x1="1169.4188861985472" y1="209.86682808716705" x2="1169.4188861985472" y2="221.0048426150121" stroke="#000" stroke-width="2.0" />
<line x1="1182.506053268765" y1="211.81598062953995" x2="1182.506053268765" y2="230.7506053268765" stroke="#000" stroke-width="2.0" />
<line x1="1196.4285714285713" y1="219.61259079903147" x2="1196.4285714285713" y2="241.88861985472153" stroke="#000" stroke-width="2.0" />
<path d="M974.3,221.1C977.7,223.2 988.0,229.6 994.6,233.5C1001.2,237.4 1007.5,242.3 1014.0,244.7C1020.5,247.1 1026.5,248.2 1033.5,248.0C1040.5,247.8 1049.8,245.7 1055.8,243.3C1061.8,240.9 1067.4,235.1 1069.7,233.5" fill="none" stroke="#000" stroke-width="2.4" stroke-linecap="round" stroke-linejoin="round"/>
<path d="M1069.7,233.5C1073.0,230.5 1083.7,219.6 1089.2,215.4C1094.8,211.2 1098.4,210.1 1103.0,208.5C1107.6,206.9 1112.3,205.9 1117.0,205.7C1121.7,205.5 1126.8,206.3 1131.0,207.5C1135.2,208.7 1137.0,209.9 1142.1,212.6C1147.2,215.3 1154.2,219.6 1161.6,223.8C1169.0,228.0 1180.2,234.4 1186.7,237.7C1193.2,240.9 1198.3,242.4 1200.6,243.3" fill="none" stroke="#000" stroke-width="2.2" stroke-linecap="round" stroke-linejoin="round"/>
<path d="M994.6,233.5C1001.2,237.4 1007.5,242.3 1014.0,244.7C1020.5,247.1 1026.5,248.2 1033.5,248.0C1040.5,247.8 1049.8,245.7 1055.8,243.3" fill="none" stroke="#000" stroke-width="3.0" stroke-linecap="round"/>
<path d="M1069.7,233.5C1077.1,236.1 1083.2,239.1 1089.2,239.1C1095.2,239.1 1100.1,236.2 1105.9,233.5" fill="none" stroke="#000" stroke-width="3.0" stroke-linecap="round"/>
<path d="M1131.0,207.5C1135.2,208.7 1137.0,209.9 1142.1,212.6C1147.2,215.3 1154.2,219.6 1161.6,223.8C1169.0,228.0 1180.2,234.4 1186.7,237.7" fill="none" stroke="#000" stroke-width="2.8" stroke-linecap="round"/>
<path d="M966.5,203.5C968.4,202.8 973.8,200.1 978.0,199.0C982.2,197.9 987.3,196.7 991.8,196.8C996.3,196.9 1000.4,198.0 1005.0,199.5C1009.6,201.0 1013.0,201.6 1019.6,205.7C1026.2,209.8 1036.4,219.2 1044.7,223.8C1053.0,228.4 1065.5,231.9 1069.7,233.5" fill="none" stroke="#000" stroke-width="1.1" stroke-linecap="round" stroke-linejoin="round"/>
<path d="M1069.7,233.5C1073.0,234.4 1083.2,239.1 1089.2,239.1C1095.2,239.1 1100.1,236.2 1105.9,233.5C1111.7,230.8 1118.0,226.5 1124.0,223.0C1130.0,219.5 1136.9,215.2 1142.1,212.6C1147.3,210.0 1150.8,208.7 1155.0,207.5C1159.2,206.3 1161.9,205.3 1167.2,205.7C1172.5,206.1 1181.1,207.8 1186.7,209.9C1192.3,212.0 1196.4,215.6 1200.6,218.2C1204.8,220.8 1209.8,224.0 1211.7,225.2" fill="none" stroke="#000" stroke-width="2.0" stroke-linecap="round" stroke-linejoin="round"/>
<path d="M1308.1,232.5C1309.5,231.3 1313.6,227.6 1316.5,225.7C1319.4,223.8 1321.8,222.1 1325.5,221.1C1329.3,220.2 1334.4,219.7 1339.2,219.9C1344.0,220.1 1348.9,221.3 1354.3,222.3C1359.7,223.4 1368.8,225.5 1371.7,226.1" fill="none" stroke="#000" stroke-width="1.3" stroke-linecap="round" stroke-linejoin="round"/>
<path d="M1306.6,222.3C1308.3,223.1 1312.3,225.5 1316.5,227.2C1320.6,228.9 1326.6,230.9 1331.6,232.5C1336.6,234.0 1341.7,235.7 1346.7,236.6C1351.8,237.4 1356.8,237.8 1361.9,237.8C1366.9,237.7 1372.1,236.9 1377.0,236.3C1381.9,235.6 1389.0,234.1 1391.4,233.7" fill="none" stroke="#000" stroke-width="1.7" stroke-linecap="round" stroke-linejoin="round"/>
<g><path d="M1292.3,194.6C1294.8,194.6 1298.6,196.3 1301.3,198.4C1304.1,200.6 1307.5,204.7 1308.9,207.5C1310.3,210.3 1310.2,212.6 1309.7,215.1C1309.2,217.6 1306.2,219.9 1305.9,222.6C1305.5,225.4 1306.1,228.9 1307.4,231.7C1308.6,234.5 1311.7,236.8 1313.4,239.3C1315.2,241.8 1317.7,244.6 1318.0,246.9C1318.2,249.1 1317.0,251.3 1315.0,252.9C1312.9,254.5 1308.6,255.7 1305.9,256.7C1303.1,257.7 1299.7,257.6 1298.3,259.0C1296.9,260.3 1297.0,262.5 1297.5,265.0C1298.1,267.5 1300.3,271.3 1301.3,274.1C1302.3,276.9 1303.9,279.5 1303.6,281.7C1303.3,283.8 1302.0,286.1 1299.8,287.0C1297.7,287.8 1294.0,287.3 1290.7,287.0C1287.5,286.6 1282.7,285.6 1280.1,284.7C1277.6,283.8 1276.1,284.4 1275.6,281.7C1275.1,278.9 1276.1,273.6 1277.1,268.0C1278.1,262.5 1280.4,253.9 1281.7,248.4C1282.9,242.8 1284.4,239.8 1284.7,234.7C1284.9,229.7 1283.4,222.6 1283.2,218.1C1282.9,213.6 1282.7,210.8 1283.2,207.5C1283.7,204.2 1284.7,200.6 1286.2,198.4C1287.7,196.3 1289.7,194.6 1292.3,194.6Z" fill="#0d0d0d" stroke="#0d0d0d" stroke-width="2.3" stroke-linejoin="round" transform="translate(0.7,0.5)"/></g>
<path d="M1292.3,194.6C1294.8,194.6 1298.6,196.3 1301.3,198.4C1304.1,200.6 1307.5,204.7 1308.9,207.5C1310.3,210.3 1310.2,212.6 1309.7,215.1C1309.2,217.6 1306.2,219.9 1305.9,222.6C1305.5,225.4 1306.1,228.9 1307.4,231.7C1308.6,234.5 1311.7,236.8 1313.4,239.3C1315.2,241.8 1317.7,244.6 1318.0,246.9C1318.2,249.1 1317.0,251.3 1315.0,252.9C1312.9,254.5 1308.6,255.7 1305.9,256.7C1303.1,257.7 1299.7,257.6 1298.3,259.0C1296.9,260.3 1297.0,262.5 1297.5,265.0C1298.1,267.5 1300.3,271.3 1301.3,274.1C1302.3,276.9 1303.9,279.5 1303.6,281.7C1303.3,283.8 1302.0,286.1 1299.8,287.0C1297.7,287.8 1294.0,287.3 1290.7,287.0C1287.5,286.6 1282.7,285.6 1280.1,284.7C1277.6,283.8 1276.1,284.4 1275.6,281.7C1275.1,278.9 1276.1,273.6 1277.1,268.0C1278.1,262.5 1280.4,253.9 1281.7,248.4C1282.9,242.8 1284.4,239.8 1284.7,234.7C1284.9,229.7 1283.4,222.6 1283.2,218.1C1282.9,213.6 1282.7,210.8 1283.2,207.5C1283.7,204.2 1284.7,200.6 1286.2,198.4C1287.7,196.3 1289.7,194.6 1292.3,194.6Z" fill="#b5ece5" stroke="#0d0d0d" stroke-width="1.7" stroke-linejoin="round"/>
<g><path d="M1229.4,185.6C1230.2,183.2 1233.9,182.7 1236.3,182.5C1238.7,182.4 1241.1,183.9 1243.8,184.8C1246.6,185.7 1250.1,187.6 1252.9,187.8C1255.7,188.1 1257.9,187.7 1260.5,186.3C1263.0,184.9 1265.3,181.4 1268.0,179.5C1270.8,177.6 1274.1,175.1 1277.1,175.0C1280.1,174.8 1283.9,176.6 1286.2,178.8C1288.5,180.9 1289.9,185.3 1290.7,187.8C1291.6,190.4 1292.3,191.4 1291.5,193.9C1290.7,196.4 1287.8,199.9 1286.2,203.0C1284.6,206.0 1282.2,209.5 1281.7,212.0C1281.2,214.6 1282.2,216.1 1283.2,218.1C1284.2,220.1 1286.8,221.9 1287.7,224.2C1288.6,226.4 1289.0,229.4 1288.5,231.7C1288.0,234.0 1286.3,236.5 1284.7,237.8C1283.0,239.0 1281.4,239.3 1278.6,239.3C1275.9,239.3 1271.3,238.3 1268.0,237.8C1264.8,237.3 1261.2,238.3 1259.0,236.3C1256.7,234.2 1255.4,228.9 1254.4,225.7C1253.4,222.4 1254.7,218.6 1252.9,216.6C1251.1,214.6 1246.6,215.3 1243.8,213.6C1241.1,211.8 1238.3,208.8 1236.3,206.0C1234.2,203.2 1232.9,200.3 1231.7,196.9C1230.6,193.5 1228.7,188.0 1229.4,185.6Z" fill="#0d0d0d" stroke="#0d0d0d" stroke-width="2.2" stroke-linejoin="round" transform="translate(0.6,-0.7)"/></g>
<path d="M1229.4,185.6C1230.2,183.2 1233.9,182.7 1236.3,182.5C1238.7,182.4 1241.1,183.9 1243.8,184.8C1246.6,185.7 1250.1,187.6 1252.9,187.8C1255.7,188.1 1257.9,187.7 1260.5,186.3C1263.0,184.9 1265.3,181.4 1268.0,179.5C1270.8,177.6 1274.1,175.1 1277.1,175.0C1280.1,174.8 1283.9,176.6 1286.2,178.8C1288.5,180.9 1289.9,185.3 1290.7,187.8C1291.6,190.4 1292.3,191.4 1291.5,193.9C1290.7,196.4 1287.8,199.9 1286.2,203.0C1284.6,206.0 1282.2,209.5 1281.7,212.0C1281.2,214.6 1282.2,216.1 1283.2,218.1C1284.2,220.1 1286.8,221.9 1287.7,224.2C1288.6,226.4 1289.0,229.4 1288.5,231.7C1288.0,234.0 1286.3,236.5 1284.7,237.8C1283.0,239.0 1281.4,239.3 1278.6,239.3C1275.9,239.3 1271.3,238.3 1268.0,237.8C1264.8,237.3 1261.2,238.3 1259.0,236.3C1256.7,234.2 1255.4,228.9 1254.4,225.7C1253.4,222.4 1254.7,218.6 1252.9,216.6C1251.1,214.6 1246.6,215.3 1243.8,213.6C1241.1,211.8 1238.3,208.8 1236.3,206.0C1234.2,203.2 1232.9,200.3 1231.7,196.9C1230.6,193.5 1228.7,188.0 1229.4,185.6Z" fill="#e9f8e8" stroke="#0d0d0d" stroke-width="1.6" stroke-linejoin="round"/>
<clipPath id="cl2"><rect x="1150.0" y="150.0" width="130.0" height="95.0"/></clipPath>
<g clip-path="url(#cl2)"><path d="M1198.4,230.2C1198.9,228.3 1199.4,225.7 1200.7,224.2C1202.0,222.6 1204.1,221.2 1206.0,220.8C1207.9,220.4 1210.0,220.8 1212.0,221.9C1214.1,222.9 1216.1,225.4 1218.1,227.2C1220.1,228.9 1222.1,232.0 1224.2,232.5C1226.2,233.0 1227.9,231.8 1230.2,230.2C1232.5,228.6 1235.3,224.9 1237.8,222.6C1240.3,220.4 1243.2,217.8 1245.3,216.6C1247.5,215.3 1249.2,214.6 1250.6,215.1C1252.0,215.6 1252.9,217.3 1253.7,219.6C1254.4,221.9 1254.3,226.0 1255.2,228.7C1256.1,231.3 1257.1,234.1 1259.0,235.5C1260.9,236.9 1264.0,236.8 1266.5,237.0C1269.0,237.3 1271.8,236.6 1274.1,237.0C1276.4,237.4 1278.5,237.6 1280.1,239.3C1281.8,240.9 1283.7,244.1 1283.9,246.9C1284.2,249.6 1282.8,252.4 1281.7,255.9C1280.5,259.5 1278.3,264.3 1277.1,268.0C1276.0,271.8 1275.5,275.4 1274.8,278.6C1274.2,281.9 1274.5,285.7 1273.3,287.7C1272.2,289.7 1270.4,290.4 1268.0,290.7C1265.6,291.1 1262.0,291.0 1259.0,290.0C1255.9,289.0 1252.1,286.6 1249.9,284.7C1247.6,282.8 1245.8,280.5 1245.3,278.6C1244.8,276.7 1246.1,274.8 1246.9,273.3C1247.6,271.8 1249.6,271.2 1249.9,269.6C1250.1,267.9 1249.9,265.5 1248.4,263.5C1246.9,261.5 1244.6,259.3 1240.8,257.4C1237.0,255.6 1230.7,253.9 1225.7,252.1C1220.6,250.4 1214.8,248.6 1210.5,246.9C1206.2,245.1 1202.1,243.4 1199.9,241.6C1197.8,239.7 1197.9,237.4 1197.7,235.5C1197.4,233.6 1197.9,232.1 1198.4,230.2Z" fill="#0d0d0d" stroke="#0d0d0d" stroke-width="2.2" stroke-linejoin="round" transform="translate(0.2,-1.3)"/></g>
<path d="M1198.4,230.2C1198.9,228.3 1199.4,225.7 1200.7,224.2C1202.0,222.6 1204.1,221.2 1206.0,220.8C1207.9,220.4 1210.0,220.8 1212.0,221.9C1214.1,222.9 1216.1,225.4 1218.1,227.2C1220.1,228.9 1222.1,232.0 1224.2,232.5C1226.2,233.0 1227.9,231.8 1230.2,230.2C1232.5,228.6 1235.3,224.9 1237.8,222.6C1240.3,220.4 1243.2,217.8 1245.3,216.6C1247.5,215.3 1249.2,214.6 1250.6,215.1C1252.0,215.6 1252.9,217.3 1253.7,219.6C1254.4,221.9 1254.3,226.0 1255.2,228.7C1256.1,231.3 1257.1,234.1 1259.0,235.5C1260.9,236.9 1264.0,236.8 1266.5,237.0C1269.0,237.3 1271.8,236.6 1274.1,237.0C1276.4,237.4 1278.5,237.6 1280.1,239.3C1281.8,240.9 1283.7,244.1 1283.9,246.9C1284.2,249.6 1282.8,252.4 1281.7,255.9C1280.5,259.5 1278.3,264.3 1277.1,268.0C1276.0,271.8 1275.5,275.4 1274.8,278.6C1274.2,281.9 1274.5,285.7 1273.3,287.7C1272.2,289.7 1270.4,290.4 1268.0,290.7C1265.6,291.1 1262.0,291.0 1259.0,290.0C1255.9,289.0 1252.1,286.6 1249.9,284.7C1247.6,282.8 1245.8,280.5 1245.3,278.6C1244.8,276.7 1246.1,274.8 1246.9,273.3C1247.6,271.8 1249.6,271.2 1249.9,269.6C1250.1,267.9 1249.9,265.5 1248.4,263.5C1246.9,261.5 1244.6,259.3 1240.8,257.4C1237.0,255.6 1230.7,253.9 1225.7,252.1C1220.6,250.4 1214.8,248.6 1210.5,246.9C1206.2,245.1 1202.1,243.4 1199.9,241.6C1197.8,239.7 1197.9,237.4 1197.7,235.5C1197.4,233.6 1197.9,232.1 1198.4,230.2Z" fill="#c1d8ef" stroke="#0d0d0d" stroke-width="1.6" stroke-linejoin="round"/>
<clipPath id="cl3"><rect x="1150.0" y="245.0" width="130.0" height="95.0"/></clipPath>
<g clip-path="url(#cl3)"><path d="M1198.4,230.2C1198.9,228.3 1199.4,225.7 1200.7,224.2C1202.0,222.6 1204.1,221.2 1206.0,220.8C1207.9,220.4 1210.0,220.8 1212.0,221.9C1214.1,222.9 1216.1,225.4 1218.1,227.2C1220.1,228.9 1222.1,232.0 1224.2,232.5C1226.2,233.0 1227.9,231.8 1230.2,230.2C1232.5,228.6 1235.3,224.9 1237.8,222.6C1240.3,220.4 1243.2,217.8 1245.3,216.6C1247.5,215.3 1249.2,214.6 1250.6,215.1C1252.0,215.6 1252.9,217.3 1253.7,219.6C1254.4,221.9 1254.3,226.0 1255.2,228.7C1256.1,231.3 1257.1,234.1 1259.0,235.5C1260.9,236.9 1264.0,236.8 1266.5,237.0C1269.0,237.3 1271.8,236.6 1274.1,237.0C1276.4,237.4 1278.5,237.6 1280.1,239.3C1281.8,240.9 1283.7,244.1 1283.9,246.9C1284.2,249.6 1282.8,252.4 1281.7,255.9C1280.5,259.5 1278.3,264.3 1277.1,268.0C1276.0,271.8 1275.5,275.4 1274.8,278.6C1274.2,281.9 1274.5,285.7 1273.3,287.7C1272.2,289.7 1270.4,290.4 1268.0,290.7C1265.6,291.1 1262.0,291.0 1259.0,290.0C1255.9,289.0 1252.1,286.6 1249.9,284.7C1247.6,282.8 1245.8,280.5 1245.3,278.6C1244.8,276.7 1246.1,274.8 1246.9,273.3C1247.6,271.8 1249.6,271.2 1249.9,269.6C1250.1,267.9 1249.9,265.5 1248.4,263.5C1246.9,261.5 1244.6,259.3 1240.8,257.4C1237.0,255.6 1230.7,253.9 1225.7,252.1C1220.6,250.4 1214.8,248.6 1210.5,246.9C1206.2,245.1 1202.1,243.4 1199.9,241.6C1197.8,239.7 1197.9,237.4 1197.7,235.5C1197.4,233.6 1197.9,232.1 1198.4,230.2Z" fill="#0d0d0d" stroke="#0d0d0d" stroke-width="2.2" stroke-linejoin="round" transform="translate(-0.8,1.0)"/></g>
<path d="M1198.4,230.2C1198.9,228.3 1199.4,225.7 1200.7,224.2C1202.0,222.6 1204.1,221.2 1206.0,220.8C1207.9,220.4 1210.0,220.8 1212.0,221.9C1214.1,222.9 1216.1,225.4 1218.1,227.2C1220.1,228.9 1222.1,232.0 1224.2,232.5C1226.2,233.0 1227.9,231.8 1230.2,230.2C1232.5,228.6 1235.3,224.9 1237.8,222.6C1240.3,220.4 1243.2,217.8 1245.3,216.6C1247.5,215.3 1249.2,214.6 1250.6,215.1C1252.0,215.6 1252.9,217.3 1253.7,219.6C1254.4,221.9 1254.3,226.0 1255.2,228.7C1256.1,231.3 1257.1,234.1 1259.0,235.5C1260.9,236.9 1264.0,236.8 1266.5,237.0C1269.0,237.3 1271.8,236.6 1274.1,237.0C1276.4,237.4 1278.5,237.6 1280.1,239.3C1281.8,240.9 1283.7,244.1 1283.9,246.9C1284.2,249.6 1282.8,252.4 1281.7,255.9C1280.5,259.5 1278.3,264.3 1277.1,268.0C1276.0,271.8 1275.5,275.4 1274.8,278.6C1274.2,281.9 1274.5,285.7 1273.3,287.7C1272.2,289.7 1270.4,290.4 1268.0,290.7C1265.6,291.1 1262.0,291.0 1259.0,290.0C1255.9,289.0 1252.1,286.6 1249.9,284.7C1247.6,282.8 1245.8,280.5 1245.3,278.6C1244.8,276.7 1246.1,274.8 1246.9,273.3C1247.6,271.8 1249.6,271.2 1249.9,269.6C1250.1,267.9 1249.9,265.5 1248.4,263.5C1246.9,261.5 1244.6,259.3 1240.8,257.4C1237.0,255.6 1230.7,253.9 1225.7,252.1C1220.6,250.4 1214.8,248.6 1210.5,246.9C1206.2,245.1 1202.1,243.4 1199.9,241.6C1197.8,239.7 1197.9,237.4 1197.7,235.5C1197.4,233.6 1197.9,232.1 1198.4,230.2Z" fill="#c1d8ef" stroke="#0d0d0d" stroke-width="1.6" stroke-linejoin="round"/>
<path d="M690.1,238.7C687.7,239.5 679.3,241.8 675.6,243.6C671.9,245.3 669.3,247.1 667.8,249.4C666.4,251.6 667.5,254.7 666.9,257.1C666.2,259.5 665.7,262.3 664.0,263.9C662.2,265.5 657.5,266.3 656.2,266.8" fill="none" stroke="#000" stroke-width="1.3" stroke-linecap="round" stroke-linejoin="round"/>
<g><path d="M631.0,248.4C633.3,248.4 636.4,250.8 638.8,253.2C641.2,255.7 643.5,260.2 645.6,262.9C647.7,265.7 648.0,269.1 651.4,269.7C654.8,270.4 660.9,267.6 665.9,266.8C670.9,266.0 677.9,264.5 681.4,264.9C685.0,265.2 686.1,266.2 687.2,268.7C688.3,271.3 687.2,277.1 688.2,280.4C689.2,283.6 690.3,285.2 693.0,288.1C695.8,291.0 701.1,294.2 704.6,297.8C708.2,301.3 712.1,305.5 714.3,309.4C716.6,313.3 717.9,317.5 718.2,321.0C718.5,324.6 718.2,329.0 716.3,330.7C714.3,332.5 710.1,332.3 706.6,331.7C703.0,331.0 698.8,328.1 695.0,326.9C691.1,325.6 686.6,324.1 683.3,323.9C680.1,323.8 677.9,324.6 675.6,325.9C673.3,327.2 672.4,330.2 669.8,331.7C667.2,333.1 663.6,334.0 660.1,334.6C656.5,335.2 653.3,335.2 648.5,335.6C643.6,335.9 635.6,336.9 631.0,336.5C626.5,336.2 623.9,335.6 621.4,333.6C618.8,331.7 616.7,328.3 615.5,324.9C614.4,321.5 614.6,316.8 614.6,313.3C614.6,309.7 616.0,306.5 615.5,303.6C615.1,300.7 611.8,298.8 611.7,295.9C611.5,293.0 613.4,289.1 614.6,286.2C615.7,283.3 618.6,281.0 618.5,278.4C618.3,275.8 615.1,272.8 613.6,270.7C612.2,268.6 608.4,267.1 609.7,265.8C611.0,264.5 618.8,265.0 621.4,262.9C623.9,260.8 623.6,255.7 625.2,253.2C626.8,250.8 628.8,248.4 631.0,248.4Z" fill="#0d0d0d" stroke="#0d0d0d" stroke-width="2.6" stroke-linejoin="round" transform="translate(-1.2,1.0)"/></g>
<path d="M631.0,248.4C633.3,248.4 636.4,250.8 638.8,253.2C641.2,255.7 643.5,260.2 645.6,262.9C647.7,265.7 648.0,269.1 651.4,269.7C654.8,270.4 660.9,267.6 665.9,266.8C670.9,266.0 677.9,264.5 681.4,264.9C685.0,265.2 686.1,266.2 687.2,268.7C688.3,271.3 687.2,277.1 688.2,280.4C689.2,283.6 690.3,285.2 693.0,288.1C695.8,291.0 701.1,294.2 704.6,297.8C708.2,301.3 712.1,305.5 714.3,309.4C716.6,313.3 717.9,317.5 718.2,321.0C718.5,324.6 718.2,329.0 716.3,330.7C714.3,332.5 710.1,332.3 706.6,331.7C703.0,331.0 698.8,328.1 695.0,326.9C691.1,325.6 686.6,324.1 683.3,323.9C680.1,323.8 677.9,324.6 675.6,325.9C673.3,327.2 672.4,330.2 669.8,331.7C667.2,333.1 663.6,334.0 660.1,334.6C656.5,335.2 653.3,335.2 648.5,335.6C643.6,335.9 635.6,336.9 631.0,336.5C626.5,336.2 623.9,335.6 621.4,333.6C618.8,331.7 616.7,328.3 615.5,324.9C614.4,321.5 614.6,316.8 614.6,313.3C614.6,309.7 616.0,306.5 615.5,303.6C615.1,300.7 611.8,298.8 611.7,295.9C611.5,293.0 613.4,289.1 614.6,286.2C615.7,283.3 618.6,281.0 618.5,278.4C618.3,275.8 615.1,272.8 613.6,270.7C612.2,268.6 608.4,267.1 609.7,265.8C611.0,264.5 618.8,265.0 621.4,262.9C623.9,260.8 623.6,255.7 625.2,253.2C626.8,250.8 628.8,248.4 631.0,248.4Z" fill="#3f9bcf" stroke="#0d0d0d" stroke-width="2.0" stroke-linejoin="round"/>
<text x="660.5" y="314" font-family="'Liberation Sans', sans-serif" font-size="27.5" fill="#000" text-anchor="middle" font-weight="bold" font-style="normal" >BirA*</text>
<text x="758" y="342.5" font-family="'Liberation Sans', sans-serif" font-size="32.5" fill="#000" text-anchor="start" font-weight="normal" font-style="normal" >biotin</text>
<polygon points="599.5,273.7 603.0,282.3 613.1,284.1 604.9,289.7 606.0,298.7 597.5,293.6 588.0,297.3 590.9,288.6 583.9,281.9 594.3,281.6" fill="#3d9dc3" stroke="#111" stroke-width="1.3" stroke-linejoin="miter"/>
<polygon points="734.8,286.3 739.7,294.3 750.0,294.9 742.8,301.4 745.3,310.2 736.0,306.2 727.3,311.1 728.7,302.1 720.8,296.2 731.0,294.7" fill="#3d9dc3" stroke="#111" stroke-width="1.3" stroke-linejoin="miter"/>
<polygon points="582.3,322.1 586.0,330.6 596.2,332.3 588.1,338.0 589.4,347.0 580.7,342.0 571.4,345.9 574.1,337.1 567.0,330.5 577.3,330.1" fill="#3d9dc3" stroke="#111" stroke-width="1.3" stroke-linejoin="miter"/>
<polygon points="734.4,325.4 739.7,333.3 750.1,333.4 743.3,340.2 746.3,348.9 736.8,345.3 728.3,350.6 729.3,341.5 721.0,336.1 731.1,334.0" fill="#3d9dc3" stroke="#111" stroke-width="1.3" stroke-linejoin="miter"/>
<polygon points="666.5,330.8 671.6,338.7 682.0,339.0 675.0,345.7 677.9,354.5 668.5,350.7 659.9,355.9 661.0,346.8 652.8,341.2 663.0,339.4" fill="#3d9dc3" stroke="#111" stroke-width="1.3" stroke-linejoin="miter"/>
<polygon points="614.8,342.5 618.2,351.1 628.3,353.1 620.0,358.5 620.9,367.6 612.4,362.4 602.9,365.9 606.0,357.3 599.2,350.4 609.5,350.3" fill="#3d9dc3" stroke="#111" stroke-width="1.3" stroke-linejoin="miter"/>
<polygon points="700.3,340.5 704.0,349.0 714.2,350.7 706.1,356.4 707.4,365.4 698.7,360.4 689.3,364.3 692.1,355.5 685.0,348.9 695.3,348.5" fill="#3d9dc3" stroke="#111" stroke-width="1.3" stroke-linejoin="miter"/>
<polygon points="640.0,359.9 645.0,367.8 655.4,368.3 648.3,374.9 651.0,383.7 641.6,379.8 633.0,384.8 634.3,375.8 626.2,370.1 636.4,368.4" fill="#3d9dc3" stroke="#111" stroke-width="1.3" stroke-linejoin="miter"/>
<polygon points="728.3,360.3 731.8,368.8 741.9,370.7 733.7,376.3 734.9,385.3 726.3,380.2 716.8,383.9 719.7,375.2 712.8,368.5 723.1,368.2" fill="#3d9dc3" stroke="#111" stroke-width="1.3" stroke-linejoin="miter"/>
<polygon points="586.9,367.2 591.6,375.3 601.9,376.1 594.6,382.5 596.9,391.3 587.7,387.2 578.9,391.9 580.5,382.9 572.7,377.0 582.9,375.6" fill="#3d9dc3" stroke="#111" stroke-width="1.3" stroke-linejoin="miter"/>
<polygon points="685.7,367.2 689.5,375.7 699.8,377.2 691.8,383.0 693.3,392.0 684.5,387.2 675.2,391.2 677.8,382.4 670.5,375.9 680.9,375.3" fill="#3d9dc3" stroke="#111" stroke-width="1.3" stroke-linejoin="miter"/>
<text x="292" y="331" font-family="'Liberation Sans', sans-serif" font-size="32.5" fill="#000" text-anchor="start" font-weight="normal" font-style="normal" >cell lysis</text>
<line x1="486.0" y1="311.4" x2="438.5" y2="355.9" stroke="#8a8a8a" stroke-width="1.3" />
<polygon points="421.0,372.3 433.2,334.8 438.5,355.9 459.2,362.6" fill="#8a8a8a"/>
<g><path d="M190.7,450.3C193.2,450.3 197.0,452.0 199.7,454.1C202.5,456.3 205.9,460.4 207.3,463.2C208.7,466.0 208.6,468.3 208.1,470.8C207.6,473.3 204.7,475.6 204.3,478.3C203.9,481.1 204.5,484.6 205.8,487.4C207.0,490.2 210.1,492.5 211.8,495.0C213.6,497.5 216.1,500.3 216.4,502.6C216.6,504.8 215.4,507.0 213.4,508.6C211.3,510.2 207.0,511.4 204.3,512.4C201.5,513.4 198.1,513.3 196.7,514.7C195.3,516.0 195.4,518.2 195.9,520.7C196.5,523.2 198.7,527.0 199.7,529.8C200.7,532.6 202.3,535.2 202.0,537.4C201.7,539.5 200.4,541.8 198.2,542.7C196.1,543.5 192.4,543.0 189.1,542.7C185.9,542.3 181.1,541.3 178.5,540.4C176.0,539.5 174.5,540.1 174.0,537.4C173.5,534.6 174.5,529.3 175.5,523.7C176.5,518.2 178.8,509.6 180.1,504.1C181.3,498.5 182.8,495.5 183.1,490.4C183.3,485.4 181.8,478.3 181.6,473.8C181.3,469.3 181.1,466.5 181.6,463.2C182.1,459.9 183.1,456.3 184.6,454.1C186.1,452.0 188.1,450.3 190.7,450.3Z" fill="#0d0d0d" stroke="#0d0d0d" stroke-width="2.3" stroke-linejoin="round" transform="translate(0.7,0.5)"/></g>
<path d="M190.7,450.3C193.2,450.3 197.0,452.0 199.7,454.1C202.5,456.3 205.9,460.4 207.3,463.2C208.7,466.0 208.6,468.3 208.1,470.8C207.6,473.3 204.7,475.6 204.3,478.3C203.9,481.1 204.5,484.6 205.8,487.4C207.0,490.2 210.1,492.5 211.8,495.0C213.6,497.5 216.1,500.3 216.4,502.6C216.6,504.8 215.4,507.0 213.4,508.6C211.3,510.2 207.0,511.4 204.3,512.4C201.5,513.4 198.1,513.3 196.7,514.7C195.3,516.0 195.4,518.2 195.9,520.7C196.5,523.2 198.7,527.0 199.7,529.8C200.7,532.6 202.3,535.2 202.0,537.4C201.7,539.5 200.4,541.8 198.2,542.7C196.1,543.5 192.4,543.0 189.1,542.7C185.9,542.3 181.1,541.3 178.5,540.4C176.0,539.5 174.5,540.1 174.0,537.4C173.5,534.6 174.5,529.3 175.5,523.7C176.5,518.2 178.8,509.6 180.1,504.1C181.3,498.5 182.8,495.5 183.1,490.4C183.3,485.4 181.8,478.3 181.6,473.8C181.3,469.3 181.1,466.5 181.6,463.2C182.1,459.9 183.1,456.3 184.6,454.1C186.1,452.0 188.1,450.3 190.7,450.3Z" fill="#b5ece5" stroke="#0d0d0d" stroke-width="1.7" stroke-linejoin="round"/>
<g><path d="M127.8,441.3C128.6,438.9 132.3,438.4 134.7,438.2C137.1,438.1 139.5,439.6 142.2,440.5C145.0,441.4 148.5,443.3 151.3,443.5C154.1,443.8 156.3,443.4 158.9,442.0C161.4,440.6 163.7,437.1 166.4,435.2C169.2,433.3 172.5,430.8 175.5,430.7C178.5,430.5 182.3,432.3 184.6,434.5C186.9,436.6 188.3,441.0 189.1,443.5C190.0,446.1 190.7,447.1 189.9,449.6C189.1,452.1 186.2,455.6 184.6,458.7C183.0,461.7 180.6,465.2 180.1,467.7C179.6,470.3 180.6,471.8 181.6,473.8C182.6,475.8 185.2,477.6 186.1,479.9C187.0,482.1 187.4,485.1 186.9,487.4C186.4,489.7 184.7,492.2 183.1,493.5C181.4,494.7 179.8,495.0 177.0,495.0C174.3,495.0 169.7,494.0 166.4,493.5C163.2,493.0 159.6,494.0 157.4,492.0C155.1,489.9 153.8,484.6 152.8,481.4C151.8,478.1 153.1,474.3 151.3,472.3C149.5,470.3 145.0,471.0 142.2,469.3C139.5,467.5 136.7,464.5 134.7,461.7C132.6,458.9 131.3,456.0 130.1,452.6C129.0,449.2 127.1,443.7 127.8,441.3Z" fill="#0d0d0d" stroke="#0d0d0d" stroke-width="2.2" stroke-linejoin="round" transform="translate(0.6,-0.7)"/></g>
<path d="M127.8,441.3C128.6,438.9 132.3,438.4 134.7,438.2C137.1,438.1 139.5,439.6 142.2,440.5C145.0,441.4 148.5,443.3 151.3,443.5C154.1,443.8 156.3,443.4 158.9,442.0C161.4,440.6 163.7,437.1 166.4,435.2C169.2,433.3 172.5,430.8 175.5,430.7C178.5,430.5 182.3,432.3 184.6,434.5C186.9,436.6 188.3,441.0 189.1,443.5C190.0,446.1 190.7,447.1 189.9,449.6C189.1,452.1 186.2,455.6 184.6,458.7C183.0,461.7 180.6,465.2 180.1,467.7C179.6,470.3 180.6,471.8 181.6,473.8C182.6,475.8 185.2,477.6 186.1,479.9C187.0,482.1 187.4,485.1 186.9,487.4C186.4,489.7 184.7,492.2 183.1,493.5C181.4,494.7 179.8,495.0 177.0,495.0C174.3,495.0 169.7,494.0 166.4,493.5C163.2,493.0 159.6,494.0 157.4,492.0C155.1,489.9 153.8,484.6 152.8,481.4C151.8,478.1 153.1,474.3 151.3,472.3C149.5,470.3 145.0,471.0 142.2,469.3C139.5,467.5 136.7,464.5 134.7,461.7C132.6,458.9 131.3,456.0 130.1,452.6C129.0,449.2 127.1,443.7 127.8,441.3Z" fill="#e9f8e8" stroke="#0d0d0d" stroke-width="1.6" stroke-linejoin="round"/>
<clipPath id="cl4"><rect x="48.4" y="405.7" width="130.0" height="95.0"/></clipPath>
<g clip-path="url(#cl4)"><path d="M96.8,485.9C97.3,484.0 97.8,481.4 99.1,479.9C100.4,478.3 102.5,476.9 104.4,476.5C106.3,476.1 108.4,476.5 110.4,477.6C112.5,478.6 114.5,481.1 116.5,482.9C118.5,484.6 120.5,487.7 122.6,488.2C124.6,488.7 126.3,487.5 128.6,485.9C130.9,484.3 133.7,480.6 136.2,478.3C138.7,476.1 141.6,473.5 143.7,472.3C145.9,471.0 147.6,470.3 149.0,470.8C150.4,471.3 151.3,473.0 152.1,475.3C152.8,477.6 152.7,481.7 153.6,484.4C154.5,487.0 155.5,489.8 157.4,491.2C159.3,492.6 162.4,492.5 164.9,492.7C167.4,493.0 170.2,492.3 172.5,492.7C174.8,493.1 176.9,493.3 178.5,495.0C180.2,496.6 182.1,499.8 182.3,502.6C182.6,505.3 181.2,508.1 180.1,511.6C178.9,515.2 176.7,520.0 175.5,523.7C174.4,527.5 173.9,531.1 173.2,534.3C172.6,537.6 172.9,541.4 171.7,543.4C170.6,545.4 168.8,546.1 166.4,546.4C164.0,546.8 160.4,546.7 157.4,545.7C154.3,544.7 150.5,542.3 148.3,540.4C146.0,538.5 144.2,536.2 143.7,534.3C143.2,532.4 144.5,530.5 145.3,529.0C146.0,527.5 148.0,526.9 148.3,525.3C148.5,523.6 148.3,521.2 146.8,519.2C145.3,517.2 143.0,515.0 139.2,513.1C135.4,511.3 129.1,509.6 124.1,507.8C119.0,506.1 113.2,504.3 108.9,502.6C104.6,500.8 100.5,499.1 98.3,497.3C96.2,495.4 96.3,493.1 96.1,491.2C95.8,489.3 96.3,487.8 96.8,485.9Z" fill="#0d0d0d" stroke="#0d0d0d" stroke-width="2.2" stroke-linejoin="round" transform="translate(0.2,-1.3)"/></g>
<path d="M96.8,485.9C97.3,484.0 97.8,481.4 99.1,479.9C100.4,478.3 102.5,476.9 104.4,476.5C106.3,476.1 108.4,476.5 110.4,477.6C112.5,478.6 114.5,481.1 116.5,482.9C118.5,484.6 120.5,487.7 122.6,488.2C124.6,488.7 126.3,487.5 128.6,485.9C130.9,484.3 133.7,480.6 136.2,478.3C138.7,476.1 141.6,473.5 143.7,472.3C145.9,471.0 147.6,470.3 149.0,470.8C150.4,471.3 151.3,473.0 152.1,475.3C152.8,477.6 152.7,481.7 153.6,484.4C154.5,487.0 155.5,489.8 157.4,491.2C159.3,492.6 162.4,492.5 164.9,492.7C167.4,493.0 170.2,492.3 172.5,492.7C174.8,493.1 176.9,493.3 178.5,495.0C180.2,496.6 182.1,499.8 182.3,502.6C182.6,505.3 181.2,508.1 180.1,511.6C178.9,515.2 176.7,520.0 175.5,523.7C174.4,527.5 173.9,531.1 173.2,534.3C172.6,537.6 172.9,541.4 171.7,543.4C170.6,545.4 168.8,546.1 166.4,546.4C164.0,546.8 160.4,546.7 157.4,545.7C154.3,544.7 150.5,542.3 148.3,540.4C146.0,538.5 144.2,536.2 143.7,534.3C143.2,532.4 144.5,530.5 145.3,529.0C146.0,527.5 148.0,526.9 148.3,525.3C148.5,523.6 148.3,521.2 146.8,519.2C145.3,517.2 143.0,515.0 139.2,513.1C135.4,511.3 129.1,509.6 124.1,507.8C119.0,506.1 113.2,504.3 108.9,502.6C104.6,500.8 100.5,499.1 98.3,497.3C96.2,495.4 96.3,493.1 96.1,491.2C95.8,489.3 96.3,487.8 96.8,485.9Z" fill="#c1d8ef" stroke="#0d0d0d" stroke-width="1.6" stroke-linejoin="round"/>
<clipPath id="cl5"><rect x="48.4" y="500.7" width="130.0" height="95.0"/></clipPath>
<g clip-path="url(#cl5)"><path d="M96.8,485.9C97.3,484.0 97.8,481.4 99.1,479.9C100.4,478.3 102.5,476.9 104.4,476.5C106.3,476.1 108.4,476.5 110.4,477.6C112.5,478.6 114.5,481.1 116.5,482.9C118.5,484.6 120.5,487.7 122.6,488.2C124.6,488.7 126.3,487.5 128.6,485.9C130.9,484.3 133.7,480.6 136.2,478.3C138.7,476.1 141.6,473.5 143.7,472.3C145.9,471.0 147.6,470.3 149.0,470.8C150.4,471.3 151.3,473.0 152.1,475.3C152.8,477.6 152.7,481.7 153.6,484.4C154.5,487.0 155.5,489.8 157.4,491.2C159.3,492.6 162.4,492.5 164.9,492.7C167.4,493.0 170.2,492.3 172.5,492.7C174.8,493.1 176.9,493.3 178.5,495.0C180.2,496.6 182.1,499.8 182.3,502.6C182.6,505.3 181.2,508.1 180.1,511.6C178.9,515.2 176.7,520.0 175.5,523.7C174.4,527.5 173.9,531.1 173.2,534.3C172.6,537.6 172.9,541.4 171.7,543.4C170.6,545.4 168.8,546.1 166.4,546.4C164.0,546.8 160.4,546.7 157.4,545.7C154.3,544.7 150.5,542.3 148.3,540.4C146.0,538.5 144.2,536.2 143.7,534.3C143.2,532.4 144.5,530.5 145.3,529.0C146.0,527.5 148.0,526.9 148.3,525.3C148.5,523.6 148.3,521.2 146.8,519.2C145.3,517.2 143.0,515.0 139.2,513.1C135.4,511.3 129.1,509.6 124.1,507.8C119.0,506.1 113.2,504.3 108.9,502.6C104.6,500.8 100.5,499.1 98.3,497.3C96.2,495.4 96.3,493.1 96.1,491.2C95.8,489.3 96.3,487.8 96.8,485.9Z" fill="#0d0d0d" stroke="#0d0d0d" stroke-width="2.2" stroke-linejoin="round" transform="translate(-0.8,1.0)"/></g>
<path d="M96.8,485.9C97.3,484.0 97.8,481.4 99.1,479.9C100.4,478.3 102.5,476.9 104.4,476.5C106.3,476.1 108.4,476.5 110.4,477.6C112.5,478.6 114.5,481.1 116.5,482.9C118.5,484.6 120.5,487.7 122.6,488.2C124.6,488.7 126.3,487.5 128.6,485.9C130.9,484.3 133.7,480.6 136.2,478.3C138.7,476.1 141.6,473.5 143.7,472.3C145.9,471.0 147.6,470.3 149.0,470.8C150.4,471.3 151.3,473.0 152.1,475.3C152.8,477.6 152.7,481.7 153.6,484.4C154.5,487.0 155.5,489.8 157.4,491.2C159.3,492.6 162.4,492.5 164.9,492.7C167.4,493.0 170.2,492.3 172.5,492.7C174.8,493.1 176.9,493.3 178.5,495.0C180.2,496.6 182.1,499.8 182.3,502.6C182.6,505.3 181.2,508.1 180.1,511.6C178.9,515.2 176.7,520.0 175.5,523.7C174.4,527.5 173.9,531.1 173.2,534.3C172.6,537.6 172.9,541.4 171.7,543.4C170.6,545.4 168.8,546.1 166.4,546.4C164.0,546.8 160.4,546.7 157.4,545.7C154.3,544.7 150.5,542.3 148.3,540.4C146.0,538.5 144.2,536.2 143.7,534.3C143.2,532.4 144.5,530.5 145.3,529.0C146.0,527.5 148.0,526.9 148.3,525.3C148.5,523.6 148.3,521.2 146.8,519.2C145.3,517.2 143.0,515.0 139.2,513.1C135.4,511.3 129.1,509.6 124.1,507.8C119.0,506.1 113.2,504.3 108.9,502.6C104.6,500.8 100.5,499.1 98.3,497.3C96.2,495.4 96.3,493.1 96.1,491.2C95.8,489.3 96.3,487.8 96.8,485.9Z" fill="#c1d8ef" stroke="#0d0d0d" stroke-width="1.6" stroke-linejoin="round"/>
<clipPath id="cl6"><rect x="266.0" y="428.4" width="300.0" height="250.0"/></clipPath>
<g clip-path="url(#cl6)"><path d="M372.2,480.1C376.9,478.5 387.2,479.7 393.1,477.6C399.0,475.4 404.0,467.8 407.6,467.0C411.3,466.2 413.0,470.7 415.3,472.6C417.5,474.6 419.9,476.8 421.1,478.6C422.2,480.5 422.7,482.2 422.2,483.5C421.6,484.9 420.5,485.8 417.6,487.0C414.8,488.2 408.3,489.1 404.9,490.6C401.5,492.1 398.5,493.9 397.1,496.1C395.8,498.3 395.3,501.2 396.8,503.7C398.2,506.2 403.4,508.5 405.8,511.0C408.3,513.4 411.0,515.8 411.3,518.2C411.6,520.7 409.5,523.5 407.6,525.5C405.8,527.5 403.1,529.4 400.4,530.0C397.7,530.6 393.4,530.2 391.3,529.1C389.2,528.1 389.2,525.8 387.7,523.7C386.2,521.6 384.3,518.8 382.2,516.4C380.1,514.0 377.4,511.0 375.0,509.2C372.5,507.3 369.5,507.0 367.7,505.5C365.9,504.0 364.5,503.1 364.1,500.1C363.6,497.0 363.6,490.7 365.0,487.4C366.3,484.0 367.5,481.7 372.2,480.1Z" fill="#0d0d0d" stroke="#0d0d0d" stroke-width="1.9" stroke-linejoin="round" transform="translate(3.2,2.4)"/></g>
<path d="M372.2,480.1C376.9,478.5 387.2,479.7 393.1,477.6C399.0,475.4 404.0,467.8 407.6,467.0C411.3,466.2 413.0,470.7 415.3,472.6C417.5,474.6 419.9,476.8 421.1,478.6C422.2,480.5 422.7,482.2 422.2,483.5C421.6,484.9 420.5,485.8 417.6,487.0C414.8,488.2 408.3,489.1 404.9,490.6C401.5,492.1 398.5,493.9 397.1,496.1C395.8,498.3 395.3,501.2 396.8,503.7C398.2,506.2 403.4,508.5 405.8,511.0C408.3,513.4 411.0,515.8 411.3,518.2C411.6,520.7 409.5,523.5 407.6,525.5C405.8,527.5 403.1,529.4 400.4,530.0C397.7,530.6 393.4,530.2 391.3,529.1C389.2,528.1 389.2,525.8 387.7,523.7C386.2,521.6 384.3,518.8 382.2,516.4C380.1,514.0 377.4,511.0 375.0,509.2C372.5,507.3 369.5,507.0 367.7,505.5C365.9,504.0 364.5,503.1 364.1,500.1C363.6,497.0 363.6,490.7 365.0,487.4C366.3,484.0 367.5,481.7 372.2,480.1Z" fill="#869091" stroke="#2a2a2a" stroke-width="1.3" stroke-linejoin="round"/>
<path d="M364.1,487.4 L367.5,487.4 L367.2,498.9 L364.4,500.4Z" fill="#ecede0"/>
<g><path d="M303.2,442.0C305.5,439.5 310.3,440.0 313.2,440.1C316.1,440.3 318.4,441.1 320.5,442.9C322.6,444.7 323.8,448.6 325.9,451.0C328.0,453.5 330.2,456.2 333.2,457.4C336.2,458.6 340.6,457.8 344.1,458.3C347.6,458.8 351.4,458.9 354.1,460.1C356.8,461.3 360.0,462.8 360.4,465.6C360.9,468.3 358.6,473.4 356.8,476.5C355.0,479.5 351.7,481.0 349.5,483.7C347.4,486.5 345.0,490.1 344.1,492.8C343.2,495.5 344.7,497.3 344.1,500.1C343.5,502.8 342.3,506.4 340.5,509.2C338.6,511.9 335.9,515.5 333.2,516.4C330.5,517.3 327.7,514.4 324.1,514.6C320.5,514.7 315.6,517.3 311.4,517.3C307.2,517.3 302.5,516.0 298.7,514.6C294.9,513.2 290.7,511.9 288.7,509.2C286.7,506.4 286.1,502.2 286.9,498.3C287.6,494.3 291.3,490.4 293.2,485.5C295.2,480.7 297.6,474.3 298.7,469.2C299.7,464.1 298.8,459.2 299.6,454.7C300.4,450.1 301.0,444.4 303.2,442.0Z" fill="#0d0d0d" stroke="#0d0d0d" stroke-width="2.8000000000000003" stroke-linejoin="round" transform="translate(-1.2,-1.0)"/></g>
<path d="M303.2,442.0C305.5,439.5 310.3,440.0 313.2,440.1C316.1,440.3 318.4,441.1 320.5,442.9C322.6,444.7 323.8,448.6 325.9,451.0C328.0,453.5 330.2,456.2 333.2,457.4C336.2,458.6 340.6,457.8 344.1,458.3C347.6,458.8 351.4,458.9 354.1,460.1C356.8,461.3 360.0,462.8 360.4,465.6C360.9,468.3 358.6,473.4 356.8,476.5C355.0,479.5 351.7,481.0 349.5,483.7C347.4,486.5 345.0,490.1 344.1,492.8C343.2,495.5 344.7,497.3 344.1,500.1C343.5,502.8 342.3,506.4 340.5,509.2C338.6,511.9 335.9,515.5 333.2,516.4C330.5,517.3 327.7,514.4 324.1,514.6C320.5,514.7 315.6,517.3 311.4,517.3C307.2,517.3 302.5,516.0 298.7,514.6C294.9,513.2 290.7,511.9 288.7,509.2C286.7,506.4 286.1,502.2 286.9,498.3C287.6,494.3 291.3,490.4 293.2,485.5C295.2,480.7 297.6,474.3 298.7,469.2C299.7,464.1 298.8,459.2 299.6,454.7C300.4,450.1 301.0,444.4 303.2,442.0Z" fill="#a9a9a9" stroke="#0d0d0d" stroke-width="2.2" stroke-linejoin="round"/>
<g><path d="M317.8,407.5C319.9,403.8 325.5,402.2 329.6,401.6C333.6,401.0 337.7,402.1 342.3,403.8C346.8,405.5 352.3,409.7 356.8,412.0C361.3,414.3 365.0,416.5 369.5,417.4C374.1,418.4 379.2,417.7 384.0,417.4C388.9,417.1 394.9,415.3 398.6,415.6C402.2,415.9 404.5,417.3 405.8,419.3C407.2,421.2 407.2,424.6 406.7,427.4C406.3,430.3 404.2,432.6 403.1,436.5C402.0,440.4 399.9,447.1 400.4,451.0C400.8,455.0 404.6,457.1 405.8,460.1C407.0,463.1 407.9,466.6 407.6,469.2C407.3,471.8 406.4,474.3 404.0,475.6C401.6,476.8 397.4,476.6 393.1,476.5C388.9,476.3 382.8,475.3 378.6,474.6C374.4,474.0 371.0,473.7 367.7,472.8C364.4,471.9 361.0,470.4 358.6,469.2C356.2,468.0 353.9,466.9 353.2,465.6C352.4,464.2 354.4,462.2 354.1,461.0C353.8,459.8 353.9,458.9 351.4,458.3C348.8,457.7 342.3,458.0 338.6,457.4C335.0,456.8 332.0,456.3 329.6,454.7C327.1,453.0 325.8,450.4 324.1,447.4C322.4,444.4 320.8,440.4 319.6,436.5C318.4,432.6 317.2,428.6 316.8,423.8C316.5,419.0 315.6,411.1 317.8,407.5Z" fill="#0d0d0d" stroke="#0d0d0d" stroke-width="2.6" stroke-linejoin="round" transform="translate(0.6,0.9)"/></g>
<path d="M317.8,407.5C319.9,403.8 325.5,402.2 329.6,401.6C333.6,401.0 337.7,402.1 342.3,403.8C346.8,405.5 352.3,409.7 356.8,412.0C361.3,414.3 365.0,416.5 369.5,417.4C374.1,418.4 379.2,417.7 384.0,417.4C388.9,417.1 394.9,415.3 398.6,415.6C402.2,415.9 404.5,417.3 405.8,419.3C407.2,421.2 407.2,424.6 406.7,427.4C406.3,430.3 404.2,432.6 403.1,436.5C402.0,440.4 399.9,447.1 400.4,451.0C400.8,455.0 404.6,457.1 405.8,460.1C407.0,463.1 407.9,466.6 407.6,469.2C407.3,471.8 406.4,474.3 404.0,475.6C401.6,476.8 397.4,476.6 393.1,476.5C388.9,476.3 382.8,475.3 378.6,474.6C374.4,474.0 371.0,473.7 367.7,472.8C364.4,471.9 361.0,470.4 358.6,469.2C356.2,468.0 353.9,466.9 353.2,465.6C352.4,464.2 354.4,462.2 354.1,461.0C353.8,459.8 353.9,458.9 351.4,458.3C348.8,457.7 342.3,458.0 338.6,457.4C335.0,456.8 332.0,456.3 329.6,454.7C327.1,453.0 325.8,450.4 324.1,447.4C322.4,444.4 320.8,440.4 319.6,436.5C318.4,432.6 317.2,428.6 316.8,423.8C316.5,419.0 315.6,411.1 317.8,407.5Z" fill="#ecede0" stroke="#0d0d0d" stroke-width="2.0" stroke-linejoin="round"/>
<g><path d="M345.9,481.9C346.8,479.6 350.1,480.1 351.4,481.0C352.6,481.9 351.7,486.1 353.2,487.4C354.7,488.6 358.9,486.8 360.4,488.3C361.9,489.8 361.6,493.9 362.2,496.4C362.9,499.0 362.2,501.3 364.1,503.7C365.9,506.1 370.1,508.5 373.1,511.0C376.2,513.4 380.0,515.5 382.2,518.2C384.5,521.0 386.5,524.3 386.8,527.3C387.1,530.3 385.7,534.0 384.0,536.4C382.4,538.8 377.1,539.7 376.8,541.8C376.5,544.0 381.3,546.7 382.2,549.1C383.1,551.5 383.4,554.6 382.2,556.4C381.0,558.2 378.0,558.8 375.0,560.0C371.9,561.2 367.4,562.1 364.1,563.6C360.7,565.1 357.7,567.6 355.0,569.1C352.3,570.6 350.1,572.6 347.7,572.7C345.3,572.9 342.0,572.1 340.5,570.0C338.9,567.9 339.5,563.5 338.6,560.0C337.7,556.5 336.8,552.1 335.0,549.1C333.2,546.1 330.5,543.7 327.7,541.8C325.0,540.0 320.9,540.0 318.7,538.2C316.4,536.4 314.4,533.7 314.1,530.9C313.8,528.2 314.9,524.3 316.8,521.9C318.8,519.4 322.6,517.9 325.9,516.4C329.3,514.9 333.8,514.9 336.8,512.8C339.8,510.7 342.6,506.7 344.1,503.7C345.6,500.7 345.6,498.3 345.9,494.6C346.2,491.0 345.0,484.2 345.9,481.9Z" fill="#0d0d0d" stroke="#0d0d0d" stroke-width="2.6" stroke-linejoin="round" transform="translate(-1.0,1.2)"/></g>
<path d="M345.9,481.9C346.8,479.6 350.1,480.1 351.4,481.0C352.6,481.9 351.7,486.1 353.2,487.4C354.7,488.6 358.9,486.8 360.4,488.3C361.9,489.8 361.6,493.9 362.2,496.4C362.9,499.0 362.2,501.3 364.1,503.7C365.9,506.1 370.1,508.5 373.1,511.0C376.2,513.4 380.0,515.5 382.2,518.2C384.5,521.0 386.5,524.3 386.8,527.3C387.1,530.3 385.7,534.0 384.0,536.4C382.4,538.8 377.1,539.7 376.8,541.8C376.5,544.0 381.3,546.7 382.2,549.1C383.1,551.5 383.4,554.6 382.2,556.4C381.0,558.2 378.0,558.8 375.0,560.0C371.9,561.2 367.4,562.1 364.1,563.6C360.7,565.1 357.7,567.6 355.0,569.1C352.3,570.6 350.1,572.6 347.7,572.7C345.3,572.9 342.0,572.1 340.5,570.0C338.9,567.9 339.5,563.5 338.6,560.0C337.7,556.5 336.8,552.1 335.0,549.1C333.2,546.1 330.5,543.7 327.7,541.8C325.0,540.0 320.9,540.0 318.7,538.2C316.4,536.4 314.4,533.7 314.1,530.9C313.8,528.2 314.9,524.3 316.8,521.9C318.8,519.4 322.6,517.9 325.9,516.4C329.3,514.9 333.8,514.9 336.8,512.8C339.8,510.7 342.6,506.7 344.1,503.7C345.6,500.7 345.6,498.3 345.9,494.6C346.2,491.0 345.0,484.2 345.9,481.9Z" fill="#c1d8ef" stroke="#0d0d0d" stroke-width="2.0" stroke-linejoin="round"/>
<polygon points="402.0,427.6 407.0,435.6 417.4,436.0 410.3,442.6 413.0,451.4 403.6,447.5 395.0,452.5 396.3,443.5 388.2,437.8 398.4,436.1" fill="#3d9dc3" stroke="#111" stroke-width="1.3" stroke-linejoin="miter"/>
<polygon points="338.4,465.8 341.8,474.4 351.9,476.4 343.6,481.8 344.5,490.9 336.1,485.6 326.5,489.2 329.6,480.5 322.8,473.7 333.1,473.6" fill="#3d9dc3" stroke="#111" stroke-width="1.3" stroke-linejoin="miter"/>
<polygon points="360.5,464.8 365.4,472.8 375.7,473.4 368.5,480.0 371.0,488.8 361.7,484.8 353.0,489.6 354.4,480.6 346.5,474.8 356.7,473.2" fill="#3d9dc3" stroke="#111" stroke-width="1.3" stroke-linejoin="miter"/>
<polygon points="386.2,552.1 389.2,560.8 399.2,563.1 390.7,568.3 391.3,577.4 383.0,571.9 373.3,575.2 376.8,566.6 370.2,559.5 380.6,559.7" fill="#3d9dc3" stroke="#111" stroke-width="1.3" stroke-linejoin="miter"/>
<line x1="458.0" y1="491.0" x2="544.5" y2="491.0" stroke="#8a8a8a" stroke-width="1.3" />
<polygon points="568.5,491.0 534.0,510.0 544.5,491.0 534.0,472.0" fill="#8a8a8a"/>
<text x="502.5" y="539.8" font-family="'Liberation Sans', sans-serif" font-size="32.5" fill="#000" text-anchor="middle" font-weight="normal" font-style="normal" >biotin</text>
<text x="503.3" y="578.8" font-family="'Liberation Sans', sans-serif" font-size="32.5" fill="#000" text-anchor="middle" font-weight="normal" font-style="normal" >affinity IP</text>
<g><path d="M620.7,455.9C621.6,453.2 623.4,449.0 625.8,447.0C628.1,445.0 631.9,444.0 634.7,444.0C637.4,444.0 640.2,445.3 642.3,447.0C644.4,448.8 645.7,452.3 647.4,454.7C649.1,457.0 650.1,459.6 652.5,461.0C654.8,462.4 657.8,462.8 661.4,463.1C665.0,463.3 671.6,462.2 674.1,462.8C676.5,463.4 676.7,464.8 676.1,466.6C675.5,468.4 672.5,470.8 670.3,473.7C668.0,476.6 664.1,480.5 662.6,483.9C661.1,487.3 660.7,491.1 661.4,494.1C662.0,497.0 665.8,499.2 666.4,501.7C667.1,504.2 666.4,506.8 665.2,509.3C663.9,511.9 661.4,514.9 658.8,516.9C656.3,519.0 652.9,521.3 649.9,521.5C646.9,521.7 644.2,518.6 641.0,518.2C637.8,517.8 634.7,519.2 630.8,519.0C627.0,518.8 621.7,518.1 618.1,516.9C614.5,515.8 611.2,514.0 609.2,511.9C607.2,509.7 606.2,507.0 606.2,504.2C606.2,501.5 607.7,498.5 609.2,495.3C610.8,492.2 613.9,488.8 615.6,485.2C617.3,481.6 618.6,477.3 619.4,473.7C620.2,470.1 620.0,466.5 620.2,463.6C620.4,460.6 619.7,458.7 620.7,455.9Z" fill="#0d0d0d" stroke="#0d0d0d" stroke-width="2.8000000000000003" stroke-linejoin="round" transform="translate(-1.2,-1.0)"/></g>
<path d="M620.7,455.9C621.6,453.2 623.4,449.0 625.8,447.0C628.1,445.0 631.9,444.0 634.7,444.0C637.4,444.0 640.2,445.3 642.3,447.0C644.4,448.8 645.7,452.3 647.4,454.7C649.1,457.0 650.1,459.6 652.5,461.0C654.8,462.4 657.8,462.8 661.4,463.1C665.0,463.3 671.6,462.2 674.1,462.8C676.5,463.4 676.7,464.8 676.1,466.6C675.5,468.4 672.5,470.8 670.3,473.7C668.0,476.6 664.1,480.5 662.6,483.9C661.1,487.3 660.7,491.1 661.4,494.1C662.0,497.0 665.8,499.2 666.4,501.7C667.1,504.2 666.4,506.8 665.2,509.3C663.9,511.9 661.4,514.9 658.8,516.9C656.3,519.0 652.9,521.3 649.9,521.5C646.9,521.7 644.2,518.6 641.0,518.2C637.8,517.8 634.7,519.2 630.8,519.0C627.0,518.8 621.7,518.1 618.1,516.9C614.5,515.8 611.2,514.0 609.2,511.9C607.2,509.7 606.2,507.0 606.2,504.2C606.2,501.5 607.7,498.5 609.2,495.3C610.8,492.2 613.9,488.8 615.6,485.2C617.3,481.6 618.6,477.3 619.4,473.7C620.2,470.1 620.0,466.5 620.2,463.6C620.4,460.6 619.7,458.7 620.7,455.9Z" fill="#a9a9a9" stroke="#0d0d0d" stroke-width="2.2" stroke-linejoin="round"/>
<g><path d="M714.7,447.0C717.7,446.0 728.3,445.1 731.3,447.0C734.2,448.9 732.1,455.1 732.5,458.5C733.0,461.9 732.1,464.4 733.8,467.4C735.5,470.3 739.3,473.3 742.7,476.3C746.1,479.2 751.3,482.0 754.2,485.2C757.0,488.3 759.4,492.2 760.0,495.3C760.6,498.5 760.0,501.9 758.0,504.2C755.9,506.6 748.2,507.2 747.8,509.3C747.4,511.4 754.2,514.2 755.4,516.9C756.7,519.7 756.7,523.7 755.4,525.8C754.2,528.0 751.2,529.0 747.8,529.7C744.4,530.3 738.9,528.6 735.1,529.7C731.3,530.7 727.9,534.1 724.9,536.0C721.9,537.9 719.8,540.7 717.3,541.1C714.7,541.5 711.1,540.9 709.7,538.6C708.2,536.2 709.2,530.9 708.4,527.1C707.5,523.3 706.9,518.4 704.6,515.7C702.2,512.9 697.4,512.3 694.4,510.6C691.4,508.9 688.4,507.8 686.8,505.5C685.2,503.2 684.1,499.8 684.7,496.6C685.4,493.4 687.7,489.8 690.6,486.4C693.5,483.1 698.9,480.1 702.0,476.3C705.2,472.5 707.8,467.4 709.7,463.6C711.6,459.7 712.6,456.1 713.5,453.4C714.3,450.6 711.8,448.1 714.7,447.0Z" fill="#0d0d0d" stroke="#0d0d0d" stroke-width="2.6" stroke-linejoin="round" transform="translate(-1.0,1.2)"/></g>
<path d="M714.7,447.0C717.7,446.0 728.3,445.1 731.3,447.0C734.2,448.9 732.1,455.1 732.5,458.5C733.0,461.9 732.1,464.4 733.8,467.4C735.5,470.3 739.3,473.3 742.7,476.3C746.1,479.2 751.3,482.0 754.2,485.2C757.0,488.3 759.4,492.2 760.0,495.3C760.6,498.5 760.0,501.9 758.0,504.2C755.9,506.6 748.2,507.2 747.8,509.3C747.4,511.4 754.2,514.2 755.4,516.9C756.7,519.7 756.7,523.7 755.4,525.8C754.2,528.0 751.2,529.0 747.8,529.7C744.4,530.3 738.9,528.6 735.1,529.7C731.3,530.7 727.9,534.1 724.9,536.0C721.9,537.9 719.8,540.7 717.3,541.1C714.7,541.5 711.1,540.9 709.7,538.6C708.2,536.2 709.2,530.9 708.4,527.1C707.5,523.3 706.9,518.4 704.6,515.7C702.2,512.9 697.4,512.3 694.4,510.6C691.4,508.9 688.4,507.8 686.8,505.5C685.2,503.2 684.1,499.8 684.7,496.6C685.4,493.4 687.7,489.8 690.6,486.4C693.5,483.1 698.9,480.1 702.0,476.3C705.2,472.5 707.8,467.4 709.7,463.6C711.6,459.7 712.6,456.1 713.5,453.4C714.3,450.6 711.8,448.1 714.7,447.0Z" fill="#c1d8ef" stroke="#0d0d0d" stroke-width="2.0" stroke-linejoin="round"/>
<clipPath id="cl7"><rect x="580.0" y="462.0" width="420.0" height="200.0"/></clipPath>
<g clip-path="url(#cl7)"><path d="M796.1,454.7C797.6,452.5 800.8,450.0 803.7,448.3C806.7,446.6 811.1,443.9 813.9,444.5C816.7,445.1 816.9,451.1 820.3,452.1C823.6,453.2 829.8,451.1 834.2,450.8C838.7,450.6 843.6,450.0 846.9,450.8C850.3,451.7 853.4,453.8 854.6,455.9C855.8,458.1 855.8,461.4 854.1,463.6C852.4,465.7 846.7,466.5 844.4,468.6C842.2,470.8 841.0,472.9 840.6,476.3C840.2,479.7 842.1,485.6 841.9,489.0C841.7,492.4 841.0,494.1 839.3,496.6C837.6,499.2 833.2,500.8 831.7,504.2C830.2,507.6 831.7,513.6 830.4,516.9C829.2,520.3 826.0,524.2 824.1,524.6C822.2,525.0 820.7,522.0 819.0,519.5C817.3,516.9 816.0,512.1 813.9,509.3C811.8,506.6 809.7,504.2 806.3,503.0C802.9,501.7 797.4,502.5 793.6,501.7C789.7,500.8 785.3,499.6 783.4,497.9C781.5,496.2 781.3,493.4 782.1,491.5C783.0,489.6 786.1,488.6 788.5,486.4C790.8,484.3 794.6,481.8 796.1,478.8C797.6,475.8 797.6,471.6 797.4,468.6C797.2,465.7 795.0,463.3 794.8,461.0C794.6,458.7 794.6,456.8 796.1,454.7Z" fill="#0d0d0d" stroke="#0d0d0d" stroke-width="2.0" stroke-linejoin="round" transform="translate(1.7,1.7)"/></g>
<path d="M796.1,454.7C797.6,452.5 800.8,450.0 803.7,448.3C806.7,446.6 811.1,443.9 813.9,444.5C816.7,445.1 816.9,451.1 820.3,452.1C823.6,453.2 829.8,451.1 834.2,450.8C838.7,450.6 843.6,450.0 846.9,450.8C850.3,451.7 853.4,453.8 854.6,455.9C855.8,458.1 855.8,461.4 854.1,463.6C852.4,465.7 846.7,466.5 844.4,468.6C842.2,470.8 841.0,472.9 840.6,476.3C840.2,479.7 842.1,485.6 841.9,489.0C841.7,492.4 841.0,494.1 839.3,496.6C837.6,499.2 833.2,500.8 831.7,504.2C830.2,507.6 831.7,513.6 830.4,516.9C829.2,520.3 826.0,524.2 824.1,524.6C822.2,525.0 820.7,522.0 819.0,519.5C817.3,516.9 816.0,512.1 813.9,509.3C811.8,506.6 809.7,504.2 806.3,503.0C802.9,501.7 797.4,502.5 793.6,501.7C789.7,500.8 785.3,499.6 783.4,497.9C781.5,496.2 781.3,493.4 782.1,491.5C783.0,489.6 786.1,488.6 788.5,486.4C790.8,484.3 794.6,481.8 796.1,478.8C797.6,475.8 797.6,471.6 797.4,468.6C797.2,465.7 795.0,463.3 794.8,461.0C794.6,458.7 794.6,456.8 796.1,454.7Z" fill="#869091" stroke="#222" stroke-width="1.4" stroke-linejoin="round"/>
<polygon points="659.4,471.2 663.1,479.7 673.2,481.4 665.2,487.1 666.5,496.1 657.8,491.1 648.4,495.0 651.1,486.2 644.0,479.6 654.4,479.2" fill="#3d9dc3" stroke="#111" stroke-width="1.3" stroke-linejoin="miter"/>
<polygon points="722.6,428.5 727.3,436.6 737.6,437.3 730.2,443.7 732.6,452.6 723.4,448.4 714.5,453.1 716.2,444.2 708.3,438.2 718.6,436.8" fill="#3d9dc3" stroke="#111" stroke-width="1.3" stroke-linejoin="miter"/>
<polygon points="758.5,514.4 762.0,523.0 772.2,524.8 764.0,530.4 765.1,539.5 756.6,534.3 747.1,538.1 750.0,529.3 743.0,522.6 753.4,522.3" fill="#3d9dc3" stroke="#111" stroke-width="1.3" stroke-linejoin="miter"/>
<polygon points="803.4,427.2 808.3,435.2 818.6,435.8 811.4,442.4 813.9,451.2 804.6,447.1 795.9,452.0 797.3,443.0 789.4,437.2 799.6,435.6" fill="#3d9dc3" stroke="#111" stroke-width="1.3" stroke-linejoin="miter"/>
<line x1="896.3" y1="491.1" x2="982.8" y2="491.1" stroke="#8a8a8a" stroke-width="1.3" />
<polygon points="1006.8,491.1 972.3,510.1 982.8,491.1 972.3,472.1" fill="#8a8a8a"/>
<text x="947" y="539.8" font-family="'Liberation Sans', sans-serif" font-size="32.5" fill="#000" text-anchor="middle" font-weight="normal" font-style="normal" >trypsin</text>
<text x="947" y="578.8" font-family="'Liberation Sans', sans-serif" font-size="32.5" fill="#000" text-anchor="middle" font-weight="normal" font-style="normal" >digestion</text>
<path d="M1081.5,452.7C1081.4,453.5 1082.1,456.2 1080.9,457.8C1079.8,459.4 1077.2,461.1 1074.9,462.4C1072.6,463.6 1069.2,464.1 1067.3,465.4C1065.4,466.7 1064.0,468.4 1063.4,469.9C1062.7,471.5 1063.4,473.7 1063.4,474.5" fill="none" stroke="#757575" stroke-width="3.7" stroke-linecap="round" stroke-linejoin="round"/>
<path d="M1056.7,490.2C1055.2,490.2 1050.0,489.6 1047.7,490.2C1045.3,490.9 1043.4,492.2 1042.5,494.2C1041.6,496.1 1042.2,499.2 1042.5,501.7C1042.9,504.2 1044.0,507.3 1044.6,509.3C1045.2,511.3 1045.9,513.1 1046.1,513.8" fill="none" stroke="#757575" stroke-width="3.8" stroke-linecap="round" stroke-linejoin="round"/>
<path d="M1096.1,439.7C1097.1,440.9 1099.6,444.7 1102.1,447.2C1104.7,449.8 1108.2,453.2 1111.2,454.8C1114.2,456.4 1117.3,457.4 1120.3,456.9C1123.3,456.4 1125.8,453.6 1129.4,451.8C1132.9,449.9 1137.4,446.9 1141.5,445.7C1145.5,444.6 1150.1,444.3 1153.6,444.8C1157.1,445.3 1161.2,448.1 1162.7,448.8" fill="none" stroke="#757575" stroke-width="3.8" stroke-linecap="round" stroke-linejoin="round"/>
<path d="M1107.6,474.5C1107.9,476.0 1109.5,480.8 1109.7,483.6C1109.9,486.3 1110.1,489.5 1108.8,491.1C1107.5,492.8 1105.3,493.0 1102.1,493.5C1099.0,494.1 1093.3,493.3 1090.0,494.2C1086.7,495.0 1083.7,496.7 1082.5,498.7C1081.2,500.7 1081.7,503.7 1082.5,506.3C1083.2,508.8 1085.8,511.3 1087.0,513.8C1088.2,516.3 1089.7,519.1 1089.4,521.4C1089.2,523.7 1087.7,526.1 1085.5,527.4C1083.3,528.8 1079.2,528.7 1076.4,529.6C1073.6,530.4 1070.6,531.0 1068.8,532.6C1067.1,534.2 1066.3,537.9 1065.8,538.9" fill="none" stroke="#757575" stroke-width="4.0" stroke-linecap="round" stroke-linejoin="round"/>
<path d="M1099.1,530.5C1101.6,530.0 1109.2,528.2 1114.2,527.4C1119.3,526.7 1125.3,527.4 1129.4,525.9C1133.4,524.4 1136.2,521.4 1138.5,518.4C1140.7,515.3 1141.2,511.0 1143.0,507.8C1144.8,504.6 1146.3,501.1 1149.0,499.3C1151.8,497.5 1157.9,497.5 1159.6,497.2" fill="none" stroke="#757575" stroke-width="2.4" stroke-linecap="round" stroke-linejoin="round"/>
<path d="M1174.2,471.5C1173.2,472.2 1169.4,473.7 1168.1,476.0C1166.8,478.3 1166.1,481.5 1166.3,485.1C1166.5,488.6 1168.3,493.4 1169.3,497.2C1170.3,501.0 1172.2,504.5 1172.3,507.8C1172.5,511.1 1171.6,514.6 1170.2,516.9C1168.9,519.1 1165.2,520.6 1164.2,521.4" fill="none" stroke="#757575" stroke-width="3.7" stroke-linecap="round" stroke-linejoin="round"/>
<path d="M1208.1,500.2C1206.8,500.6 1202.6,500.6 1200.5,502.3C1198.4,504.1 1196.9,507.4 1195.4,510.8C1193.8,514.2 1193.3,519.4 1191.4,522.9C1189.5,526.4 1187.1,529.7 1183.8,532.0C1180.6,534.3 1175.5,535.3 1171.7,536.5C1168.0,537.8 1164.4,537.8 1161.2,539.6C1157.9,541.3 1153.6,545.9 1152.1,547.1" fill="none" stroke="#757575" stroke-width="3.7" stroke-linecap="round" stroke-linejoin="round"/>
<polygon points="1064.5,471.6 1068.1,480.1 1078.3,481.8 1070.2,487.5 1071.5,496.5 1062.9,491.5 1053.5,495.4 1056.2,486.6 1049.1,480.0 1059.5,479.6" fill="#3d9dc3" stroke="#111" stroke-width="1.3" stroke-linejoin="miter"/>
<polygon points="1174.6,436.2 1179.4,444.2 1189.7,444.8 1182.5,451.3 1185.1,460.2 1175.8,456.1 1167.0,461.0 1168.5,452.0 1160.5,446.2 1170.7,444.6" fill="#3d9dc3" stroke="#111" stroke-width="1.3" stroke-linejoin="miter"/>
<line x1="1236.8" y1="489.6" x2="1323.3" y2="489.6" stroke="#8a8a8a" stroke-width="1.3" />
<polygon points="1347.3,489.6 1312.8,508.6 1323.3,489.6 1312.8,470.6" fill="#8a8a8a"/>
<text x="1280.5" y="539.5" font-family="'Liberation Sans', sans-serif" font-size="32.5" fill="#000" text-anchor="middle" font-weight="normal" font-style="normal" >LC-MS</text>
<text x="1492.6" y="461.3" font-family="'Liberation Sans', sans-serif" font-size="32.5" fill="#000" text-anchor="middle" font-weight="normal" font-style="normal" >Protein</text>
<text x="1496.6" y="500" font-family="'Liberation Sans', sans-serif" font-size="32.5" fill="#000" text-anchor="middle" font-weight="normal" font-style="normal" >identification and</text>
<text x="1496.8" y="539.4" font-family="'Liberation Sans', sans-serif" font-size="32.5" fill="#000" text-anchor="middle" font-weight="normal" font-style="normal" >quantification</text>
</svg>
</body></html>
